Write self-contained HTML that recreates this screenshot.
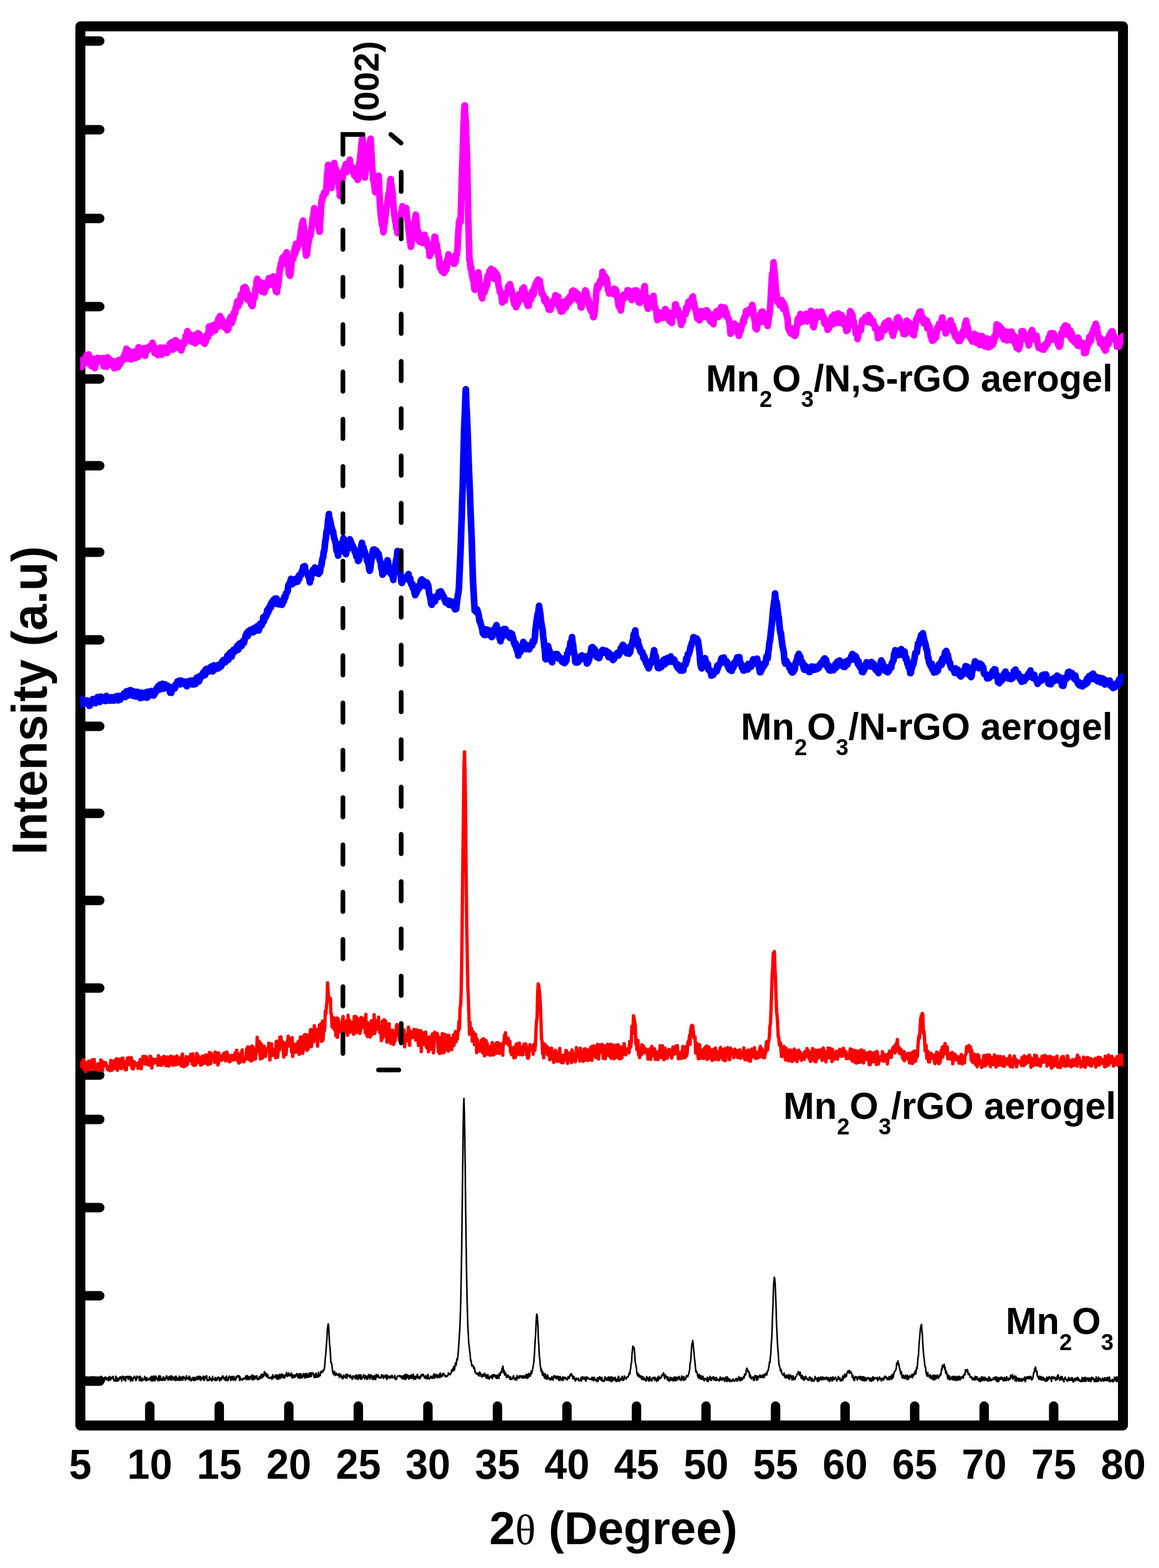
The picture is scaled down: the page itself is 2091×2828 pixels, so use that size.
<!DOCTYPE html>
<html><head><meta charset="utf-8"><title>XRD</title>
<style>
html,body{margin:0;padding:0;background:#fefefe;overflow:hidden}
svg{display:block;filter:blur(0.6px)}
text{font-family:"Liberation Sans",Arial,sans-serif;font-weight:bold;fill:#000}
</style></head><body>
<svg width="2091" height="2828" viewBox="0 0 2091 2828">
<defs><clipPath id="pc"><rect x="144.5" y="40" width="1882.5" height="2535"/></clipPath></defs>
<path d="M145 74 H180M145 234 H180M145 394 H180M145 553 H180M145 683.5 H180M145 840 H180M145 996 H180M145 1154 H180M145 1310 H180M145 1467 H180M145 1624 H180M145 1782 H180M145 1939 H180M145 2019 H180M145 2178 H180M145 2337 H180M145 2491 H180M270.2 2571 V2536M395.6 2571 V2536M521.1 2571 V2536M646.5 2571 V2536M772 2571 V2536M897.5 2571 V2536M1022.9 2571 V2536M1148.3 2571 V2536M1273.8 2571 V2536M1399.2 2571 V2536M1524.7 2571 V2536M1650.2 2571 V2536M1775.6 2571 V2536M1901 2571 V2536" stroke="#000" stroke-width="17" stroke-linecap="round" fill="none"/>
<rect x="145" y="47.5" width="1881" height="2523.5" fill="none" stroke="#000" stroke-width="18" stroke-linejoin="round"/>
<g clip-path="url(#pc)" fill="none" stroke-linejoin="round" stroke-linecap="round">
<path d="M145 2484.5L145.8 2483.3L146.6 2486L147.4 2483.8L148.2 2483L149 2486L149.8 2490.8L150.6 2489.7L151.4 2489.4L152.2 2484.4L153 2487.3L153.8 2484.9L154.6 2483.9L155.4 2483.3L156.2 2484.3L157 2490.8L157.8 2489.9L158.6 2489.7L159.4 2489.6L160.2 2484.1L161 2485.1L161.8 2488L162.6 2489L163.4 2490.1L164.2 2490.3L165 2483L165.8 2487.8L166.6 2488.4L167.4 2486.9L168.2 2483.9L169 2486.6L169.8 2483L170.6 2490.8L171.4 2490.2L172.2 2487.2L173 2485L173.8 2490.6L174.6 2487.4L175.4 2490.3L176.2 2490L177 2486.8L177.8 2486L178.6 2487.7L179.4 2486.1L180.2 2483.6L181 2484.9L181.8 2489.6L182.6 2482.5L183.4 2482.6L184.2 2487.9L185 2484.7L185.8 2487L186.6 2486.4L187.4 2485.3L188.2 2491.3L189 2483.9L189.8 2485.9L190.6 2483.9L191.4 2487.9L192.2 2484.6L193 2485.3L193.8 2488.9L194.6 2485L195.4 2487.2L196.2 2490.4L197 2483L197.8 2482.6L198.6 2484.1L199.4 2489.1L200.2 2487.7L201 2484.2L201.8 2485.1L202.6 2483.6L203.4 2486.2L204.2 2482.4L205 2488.4L205.8 2490.2L206.6 2490.8L207.4 2488.7L208.2 2490.8L209 2482.1L209.8 2484.6L210.6 2490.8L211.4 2489.1L212.2 2485.7L213 2490.6L213.8 2487.6L214.6 2489.4L215.4 2484.6L216.2 2483.7L217 2486L217.8 2483.2L218.6 2485.4L219.4 2490.7L220.2 2484.9L221 2482L221.8 2482.3L222.6 2483.4L223.4 2489.1L224.2 2485.2L225 2484.5L225.8 2482.7L226.6 2490.9L227.4 2485.7L228.2 2483.7L229 2482.4L229.8 2482.3L230.6 2483.4L231.4 2488L232.2 2483.2L233 2482.2L233.8 2486.3L234.6 2484.1L235.4 2491L236.2 2482.9L237 2486.6L237.8 2488.9L238.6 2485.5L239.4 2490.8L240.2 2486.1L241 2484L241.8 2485.5L242.6 2482.1L243.4 2485.6L244.2 2484L245 2489.9L245.8 2489.4L246.6 2486.3L247.4 2482L248.2 2484L249 2483.9L249.8 2483.6L250.6 2483.8L251.4 2489.7L252.2 2483L253 2482.1L253.8 2490.2L254.6 2486.9L255.4 2490.8L256.2 2485.4L257 2489.9L257.8 2487.7L258.6 2488.9L259.4 2488.5L260.2 2486.2L261 2482.5L261.8 2483.6L262.6 2489.6L263.4 2489.9L264.2 2490.1L265 2484.7L265.8 2487.6L266.6 2488.9L267.4 2487.5L268.2 2489.1L269 2486.4L269.8 2487.6L270.6 2487.9L271.4 2484L272.2 2490L273 2490.3L273.8 2482.2L274.6 2490.5L275.4 2490.4L276.2 2487.7L277 2481.9L277.8 2489.8L278.6 2482.7L279.4 2490.4L280.2 2487.6L281 2482L281.8 2483L282.6 2487.3L283.4 2486.7L284.2 2488.3L285 2490L285.8 2483.5L286.6 2481.5L287.4 2489.9L288.2 2481.6L289 2489.5L289.8 2482.5L290.6 2488.9L291.4 2488.6L292.2 2489.5L293 2486.5L293.8 2489.5L294.6 2483.2L295.4 2487.6L296.2 2484.4L297 2489.6L297.8 2488.5L298.6 2485.7L299.4 2486.2L300.2 2481.6L301 2481.7L301.8 2486.8L302.6 2485.9L303.4 2489.3L304.2 2487L305 2482.6L305.8 2484.7L306.6 2488.4L307.4 2486.2L308.2 2481.5L309 2489.1L309.8 2489L310.6 2482.1L311.4 2486.4L312.2 2484.9L313 2488.6L313.8 2484.2L314.6 2483.5L315.4 2485.8L316.2 2490.2L317 2482.2L317.8 2482.4L318.6 2487.1L319.4 2489.5L320.2 2486.1L321 2485.3L321.8 2489.2L322.6 2488.5L323.4 2482L324.2 2489.5L325 2483.2L325.8 2484.1L326.6 2489L327.4 2485.2L328.2 2488.7L329 2482.9L329.8 2489.4L330.6 2483L331.4 2482.7L332.2 2485.9L333 2484.5L333.8 2486.3L334.6 2489.7L335.4 2487.9L336.2 2481.4L337 2484.2L337.8 2486.4L338.6 2485.8L339.4 2487.9L340.2 2485.8L341 2482L341.8 2483.6L342.6 2489.1L343.4 2484.6L344.2 2488.4L345 2490.4L345.8 2487.1L346.6 2487.6L347.4 2487L348.2 2484.2L349 2489.7L349.8 2485.6L350.6 2489.7L351.4 2484.2L352.2 2489.3L353 2488.6L353.8 2487L354.6 2485.4L355.4 2482.6L356.2 2488.4L357 2484.7L357.8 2487.4L358.6 2482.6L359.4 2482.1L360.2 2482.7L361 2488.8L361.8 2483L362.6 2489.6L363.4 2484.8L364.2 2486.6L365 2484.6L365.8 2487L366.6 2482.2L367.4 2485L368.2 2489.9L369 2483L369.8 2487.4L370.6 2484.3L371.4 2484.1L372.2 2481.5L373 2481.5L373.8 2490.1L374.6 2489L375.4 2488.7L376.2 2488.8L377 2490.1L377.8 2482.8L378.6 2486.7L379.4 2485.9L380.2 2486.6L381 2490L381.8 2488.3L382.6 2490.2L383.4 2482.4L384.2 2487.3L385 2487.5L385.8 2488.2L386.6 2487L387.4 2489L388.2 2484.1L389 2489.9L389.8 2485.1L390.6 2486.8L391.4 2489.6L392.2 2487.8L393 2484.2L393.8 2483.4L394.6 2484.3L395.4 2487.1L396.2 2490.5L397 2489.6L397.8 2485L398.6 2485L399.4 2488.8L400.2 2483.9L401 2485.1L401.8 2481.4L402.6 2482.9L403.4 2486.2L404.2 2487.6L405 2486.9L405.8 2484.5L406.6 2489.9L407.4 2486.9L408.2 2482.6L409 2481.7L409.8 2490.1L410.6 2490.2L411.4 2489.5L412.2 2486.6L413 2483.9L413.8 2481.9L414.6 2483.4L415.4 2483L416.2 2489.5L417 2489.2L417.8 2488.1L418.6 2482.3L419.4 2483.1L420.2 2483.6L421 2489.6L421.8 2482.3L422.6 2488.1L423.4 2487.1L424.2 2485.8L425 2489.6L425.8 2483.2L426.6 2485.6L427.4 2482.2L428.2 2481.6L429 2481L429.8 2483.6L430.6 2481.8L431.4 2481.2L432.2 2489.7L433 2483.3L433.8 2488.8L434.6 2487L435.4 2487.3L436.2 2486.5L437 2489.3L437.8 2488.6L438.6 2487.1L439.4 2485.6L440.2 2486.8L441 2487.1L441.8 2485.5L442.6 2485L443.4 2481.8L444.2 2488.1L445 2484.7L445.8 2480.9L446.6 2481.8L447.4 2488.3L448.2 2482.6L449 2483.8L449.8 2486.4L450.6 2488.1L451.4 2483.1L452.2 2483.6L453 2483.9L453.8 2480.3L454.6 2488.1L455.4 2480.1L456.2 2488.8L457 2481.3L457.8 2481.3L458.6 2487.6L459.4 2487.3L460.2 2481.9L461 2484.8L461.8 2484L462.6 2486.2L463.4 2481.2L464.2 2487L465 2488.5L465.8 2485.7L466.6 2487.6L467.4 2487.6L468.2 2482.3L469 2486.4L469.8 2486L470.6 2483.4L471.4 2478.6L472.2 2482.8L473 2485L473.8 2478.8L474.6 2481.2L475.4 2482.9L476.2 2479.5L477 2473.8L477.8 2479.1L478.6 2475.7L479.4 2481.5L480.2 2480.3L481 2477.6L481.8 2483.7L482.6 2481.8L483.4 2479.7L484.2 2484.8L485 2485.7L485.8 2486L486.6 2486.2L487.4 2484.3L488.2 2484.8L489 2484.1L489.8 2483.5L490.6 2487.8L491.4 2482L492.2 2479.5L493 2485.4L493.8 2483.4L494.6 2483.9L495.4 2484.4L496.2 2481.2L497 2480.7L497.8 2479.5L498.6 2486.1L499.4 2487.2L500.2 2485.2L501 2479.9L501.8 2487.8L502.6 2486.3L503.4 2483.4L504.2 2478.6L505 2486.3L505.8 2484.2L506.6 2484.2L507.4 2478.5L508.2 2485L509 2478.5L509.8 2482.5L510.6 2479.3L511.4 2481.1L512.2 2485.8L513 2484.3L513.8 2484.6L514.6 2479.4L515.4 2479.8L516.2 2481.2L517 2475.3L517.8 2478.1L518.6 2482.6L519.4 2480.2L520.2 2481L521 2476.1L521.8 2480.1L522.6 2481.6L523.4 2481.5L524.2 2479.5L525 2477.5L525.8 2476.4L526.6 2484.7L527.4 2485.3L528.2 2479.4L529 2483.9L529.8 2480.7L530.6 2482.8L531.4 2484.8L532.2 2480L533 2482.8L533.8 2479.4L534.6 2481.7L535.4 2477.3L536.2 2479.4L537 2479.6L537.8 2485.3L538.6 2478.1L539.4 2483.8L540.2 2477.6L541 2485.8L541.8 2478.2L542.6 2477.5L543.4 2478.6L544.2 2485.2L545 2482.7L545.8 2484.7L546.6 2481L547.4 2477.4L548.2 2479.5L549 2480.5L549.8 2485.3L550.6 2477.7L551.4 2478.4L552.2 2483.8L553 2477L553.8 2484.9L554.6 2478.6L555.4 2481L556.2 2481.8L557 2484L557.8 2476.3L558.6 2483.3L559.4 2477.1L560.2 2482L561 2475.6L561.8 2482.5L562.6 2477.1L563.4 2477.3L564.2 2475.7L565 2478.4L565.8 2478.4L566.6 2484.4L567.4 2480.9L568.2 2478.6L569 2484.4L569.8 2476.8L570.6 2477.1L571.4 2483.8L572.2 2483.7L573 2481.1L573.8 2483.6L574.6 2475L575.4 2482.6L576.2 2480.5L577 2479.8L577.8 2481.1L578.6 2473.9L579.4 2474.2L580.2 2473L581 2475.4L581.8 2475L582.6 2473.7L583.4 2470.4L584.2 2471.6L585 2469.3L585.8 2464.3L586.6 2451.9L587.4 2445.2L588.2 2436L589 2424.3L589.8 2414L590.6 2397.6L591.4 2392.3L592.2 2387.7L593 2394L593.8 2408.8L594.6 2424.6L595.4 2430.5L596.2 2443L597 2457.7L597.8 2457.5L598.6 2460.9L599.4 2466.2L600.2 2474.8L601 2475.9L601.8 2479.3L602.6 2476.5L603.4 2473.2L604.2 2476.4L605 2480.8L605.8 2478.4L606.6 2476.5L607.4 2479L608.2 2480.2L609 2479.5L609.8 2480.6L610.6 2478L611.4 2477.2L612.2 2484.3L613 2484L613.8 2481.2L614.6 2478.6L615.4 2480.3L616.2 2482.9L617 2486L617.8 2482.3L618.6 2486.9L619.4 2482.9L620.2 2479.8L621 2483.8L621.8 2483.8L622.6 2483.8L623.4 2485L624.2 2478.6L625 2482.4L625.8 2485.8L626.6 2479.8L627.4 2478.9L628.2 2480.2L629 2481.2L629.8 2482.6L630.6 2481.5L631.4 2484.5L632.2 2480.2L633 2481.9L633.8 2484.9L634.6 2483.7L635.4 2487.6L636.2 2487.4L637 2481.2L637.8 2481.9L638.6 2483.8L639.4 2483.8L640.2 2482.2L641 2486.8L641.8 2480.7L642.6 2483.2L643.4 2480L644.2 2487L645 2484.4L645.8 2488L646.6 2480.2L647.4 2485.5L648.2 2484.4L649 2479.4L649.8 2486.5L650.6 2487L651.4 2479.7L652.2 2487.6L653 2486.2L653.8 2484.5L654.6 2484L655.4 2481.4L656.2 2479.5L657 2483.4L657.8 2487L658.6 2480.9L659.4 2483.3L660.2 2481.6L661 2485.4L661.8 2487.8L662.6 2487.2L663.4 2481.7L664.2 2482.8L665 2479L665.8 2483.9L666.6 2486.9L667.4 2486.8L668.2 2479.7L669 2483L669.8 2479.8L670.6 2482.9L671.4 2487.4L672.2 2481.6L673 2486.8L673.8 2487.8L674.6 2486.6L675.4 2480.9L676.2 2487.5L677 2487.5L677.8 2488.2L678.6 2479.1L679.4 2479.1L680.2 2481.7L681 2483.8L681.8 2482.9L682.6 2479.9L683.4 2484.9L684.2 2485.2L685 2484.8L685.8 2483.7L686.6 2484.1L687.4 2485.4L688.2 2479.6L689 2483L689.8 2480.3L690.6 2480L691.4 2486L692.2 2482L693 2482.1L693.8 2481.6L694.6 2484.4L695.4 2480.1L696.2 2484.9L697 2479.7L697.8 2487.8L698.6 2480.4L699.4 2486.1L700.2 2484L701 2482.9L701.8 2481.8L702.6 2482.3L703.4 2486L704.2 2483.8L705 2483.9L705.8 2481.3L706.6 2484.7L707.4 2480.5L708.2 2483.4L709 2485L709.8 2484L710.6 2484.3L711.4 2484.2L712.2 2480.7L713 2487.8L713.8 2485.2L714.6 2485.6L715.4 2487.7L716.2 2483.1L717 2482L717.8 2481.7L718.6 2481.8L719.4 2481.7L720.2 2481.8L721 2480.8L721.8 2483.4L722.6 2481.6L723.4 2482.3L724.2 2485L725 2481.8L725.8 2486.8L726.6 2486.2L727.4 2481.9L728.2 2486.5L729 2480.5L729.8 2479.7L730.6 2488L731.4 2479.1L732.2 2478.9L733 2486.8L733.8 2478.8L734.6 2484.8L735.4 2483.9L736.2 2480.8L737 2481L737.8 2487.7L738.6 2482.4L739.4 2481L740.2 2482.8L741 2485.5L741.8 2481.4L742.6 2479.5L743.4 2486L744.2 2479.6L745 2479.2L745.8 2478.7L746.6 2487.8L747.4 2482.6L748.2 2485.4L749 2483.7L749.8 2487.6L750.6 2481.7L751.4 2481.8L752.2 2484.8L753 2478.6L753.8 2481.9L754.6 2485.5L755.4 2483.8L756.2 2483L757 2487.1L757.8 2482.4L758.6 2485.2L759.4 2482L760.2 2479.2L761 2481.9L761.8 2480.3L762.6 2478.6L763.4 2480.9L764.2 2479.5L765 2482.5L765.8 2485L766.6 2485.2L767.4 2486.3L768.2 2481.1L769 2484.3L769.8 2486.3L770.6 2481.7L771.4 2486.5L772.2 2479L773 2486.5L773.8 2486.1L774.6 2486.9L775.4 2485.5L776.2 2484.4L777 2481.8L777.8 2484.4L778.6 2485.8L779.4 2483L780.2 2483.4L781 2486.1L781.8 2480.2L782.6 2480.6L783.4 2477.8L784.2 2485.5L785 2483.1L785.8 2483.4L786.6 2479.4L787.4 2478.8L788.2 2481.5L789 2485L789.8 2480.2L790.6 2480.7L791.4 2480.6L792.2 2484.4L793 2477.7L793.8 2484.4L794.6 2476.4L795.4 2482.6L796.2 2483.1L797 2480.3L797.8 2482.6L798.6 2478.2L799.4 2476.8L800.2 2478.7L801 2477.6L801.8 2481.6L802.6 2480L803.4 2480.7L804.2 2483.4L805 2481.3L805.8 2481.2L806.6 2482.6L807.4 2481.9L808.2 2479.9L809 2475.9L809.8 2477L810.6 2478.8L811.4 2478.7L812.2 2479.2L813 2477.2L813.8 2475.9L814.6 2471.4L815.4 2474.1L816.2 2469.2L817 2472.5L817.8 2467.1L818.6 2464.5L819.4 2471.7L820.2 2469.4L821 2462.5L821.8 2458L822.6 2462.8L823.4 2459.6L824.2 2450.7L825 2453L825.8 2448.4L826.6 2440.2L827.4 2430L828.2 2418.3L829 2405.5L829.8 2391.7L830.6 2371.1L831.4 2339.6L832.2 2295.9L833 2251.1L833.8 2184.2L834.6 2122.2L835.4 2051.9L836.2 1999L837 1981.1L837.8 2006.3L838.6 2052.4L839.4 2116.8L840.2 2188.2L841 2247.1L841.8 2299.3L842.6 2339.2L843.4 2371.2L844.2 2396.4L845 2408.3L845.8 2423.9L846.6 2428.9L847.4 2437.6L848.2 2442L849 2453.8L849.8 2452.9L850.6 2459.6L851.4 2463.9L852.2 2461.7L853 2462.1L853.8 2464.3L854.6 2468.1L855.4 2468.5L856.2 2466.8L857 2475.1L857.8 2474.1L858.6 2477.1L859.4 2477.7L860.2 2477.3L861 2478.8L861.8 2478.3L862.6 2476.3L863.4 2480.4L864.2 2481.7L865 2474.7L865.8 2475.4L866.6 2476L867.4 2478.9L868.2 2483L869 2480.2L869.8 2483.5L870.6 2479.2L871.4 2481.3L872.2 2478.5L873 2482.3L873.8 2479.1L874.6 2476.9L875.4 2480.6L876.2 2482.3L877 2485.4L877.8 2480L878.6 2486.1L879.4 2485.1L880.2 2479.2L881 2485L881.8 2486.6L882.6 2486.9L883.4 2484.5L884.2 2481.8L885 2483.3L885.8 2484.4L886.6 2484.1L887.4 2480.3L888.2 2486.7L889 2483.6L889.8 2479.3L890.6 2481.5L891.4 2479.4L892.2 2483L893 2479.6L893.8 2483.6L894.6 2481.2L895.4 2486.2L896.2 2485.6L897 2480.2L897.8 2485.8L898.6 2483.5L899.4 2480.3L900.2 2485.8L901 2476.9L901.8 2479.6L902.6 2480.1L903.4 2474.2L904.2 2474.8L905 2475.4L905.8 2467.4L906.6 2468.8L907.4 2464L908.2 2473.3L909 2476.3L909.8 2471.9L910.6 2480L911.4 2477.9L912.2 2476.5L913 2479.2L913.8 2484.6L914.6 2482.6L915.4 2483.6L916.2 2480.1L917 2480.7L917.8 2482.7L918.6 2484.2L919.4 2487.1L920.2 2483.8L921 2482.8L921.8 2488.2L922.6 2486.2L923.4 2486.9L924.2 2487.4L925 2484.4L925.8 2482.4L926.6 2481.1L927.4 2486.1L928.2 2487L929 2488.4L929.8 2488.6L930.6 2484.7L931.4 2484.6L932.2 2489L933 2480.9L933.8 2483.5L934.6 2485.1L935.4 2485.6L936.2 2485.7L937 2481.5L937.8 2484.7L938.6 2481.6L939.4 2483.4L940.2 2481.5L941 2482.7L941.8 2485.5L942.6 2483.3L943.4 2481.1L944.2 2483.8L945 2485.6L945.8 2482.1L946.6 2481.7L947.4 2483.1L948.2 2485.3L949 2479L949.8 2484.7L950.6 2478.8L951.4 2486.2L952.2 2479.5L953 2484.9L953.8 2477.2L954.6 2481L955.4 2478.2L956.2 2482.3L957 2481.5L957.8 2474.5L958.6 2472.6L959.4 2477.3L960.2 2472.3L961 2469.1L961.8 2464.9L962.6 2459.7L963.4 2454.1L964.2 2442.2L965 2426.7L965.8 2413.8L966.6 2400.5L967.4 2381.4L968.2 2370.1L969 2372L969.8 2378.5L970.6 2394.8L971.4 2416.8L972.2 2426.6L973 2445.9L973.8 2450.3L974.6 2462.2L975.4 2466.7L976.2 2473L977 2469.3L977.8 2477L978.6 2480L979.4 2474.1L980.2 2481L981 2478.1L981.8 2483.1L982.6 2485.9L983.4 2477.4L984.2 2481.6L985 2482.8L985.8 2487.6L986.6 2487.3L987.4 2479.3L988.2 2480.6L989 2483.3L989.8 2487.1L990.6 2487.1L991.4 2485.1L992.2 2488.6L993 2487.8L993.8 2488.5L994.6 2486.3L995.4 2483L996.2 2487.4L997 2487.3L997.8 2489.4L998.6 2482.5L999.4 2481.2L1000.2 2484.2L1001 2483.4L1001.8 2484.7L1002.6 2481.7L1003.4 2486.8L1004.2 2485.2L1005 2483.7L1005.8 2482.3L1006.6 2486.7L1007.4 2482.3L1008.2 2489.4L1009 2484L1009.8 2489.7L1010.6 2482.6L1011.4 2485.1L1012.2 2488.7L1013 2486.3L1013.8 2485.7L1014.6 2489.7L1015.4 2483.1L1016.2 2489.4L1017 2486.3L1017.8 2484.2L1018.6 2484.7L1019.4 2484L1020.2 2487.2L1021 2485.4L1021.8 2486L1022.6 2487.1L1023.4 2488.8L1024.2 2487L1025 2482.8L1025.8 2485.6L1026.6 2484.9L1027.4 2485.7L1028.2 2479.5L1029 2479.5L1029.8 2480.9L1030.6 2477.3L1031.4 2478.3L1032.2 2482.5L1033 2481.5L1033.8 2487L1034.6 2483.2L1035.4 2482.6L1036.2 2486.6L1037 2486.8L1037.8 2490.6L1038.6 2490.3L1039.4 2485.6L1040.2 2486L1041 2487.9L1041.8 2486.6L1042.6 2487.5L1043.4 2485.8L1044.2 2490.1L1045 2490.4L1045.8 2489.5L1046.6 2489.1L1047.4 2490.4L1048.2 2484.7L1049 2491L1049.8 2484.2L1050.6 2483.3L1051.4 2486.9L1052.2 2483.9L1053 2484.8L1053.8 2488L1054.6 2483.8L1055.4 2486.1L1056.2 2485.9L1057 2491.2L1057.8 2483.2L1058.6 2487.2L1059.4 2486.9L1060.2 2484L1061 2485.8L1061.8 2485.9L1062.6 2485.9L1063.4 2487.7L1064.2 2487.7L1065 2486.9L1065.8 2486.7L1066.6 2488.2L1067.4 2487.1L1068.2 2483.8L1069 2488.7L1069.8 2486.4L1070.6 2490.5L1071.4 2483.9L1072.2 2487.7L1073 2485.5L1073.8 2488.5L1074.6 2490.3L1075.4 2488.7L1076.2 2488L1077 2491.3L1077.8 2484.8L1078.6 2491.9L1079.4 2486.8L1080.2 2488.6L1081 2484L1081.8 2483.1L1082.6 2484.3L1083.4 2487.8L1084.2 2485L1085 2490.1L1085.8 2484.2L1086.6 2488.9L1087.4 2491.1L1088.2 2489.2L1089 2491.3L1089.8 2490.4L1090.6 2490.7L1091.4 2483.2L1092.2 2487.5L1093 2485.6L1093.8 2486.9L1094.6 2489.5L1095.4 2489.6L1096.2 2484.7L1097 2484.4L1097.8 2483.5L1098.6 2489.6L1099.4 2490.4L1100.2 2483.7L1101 2484.1L1101.8 2484.1L1102.6 2491.9L1103.4 2483.4L1104.2 2488.1L1105 2490.8L1105.8 2484.3L1106.6 2489L1107.4 2485.8L1108.2 2488.6L1109 2487L1109.8 2484L1110.6 2490.9L1111.4 2487.2L1112.2 2491.6L1113 2488L1113.8 2491.3L1114.6 2488.4L1115.4 2482.9L1116.2 2482.4L1117 2491.4L1117.8 2488.4L1118.6 2489.4L1119.4 2489.8L1120.2 2485.3L1121 2488.4L1121.8 2487.8L1122.6 2482.3L1123.4 2486.6L1124.2 2490L1125 2486.4L1125.8 2488.4L1126.6 2481.6L1127.4 2484.6L1128.2 2485.1L1129 2485.3L1129.8 2487.6L1130.6 2483.9L1131.4 2484.1L1132.2 2483L1133 2483.6L1133.8 2481.7L1134.6 2478.7L1135.4 2475.8L1136.2 2478.6L1137 2470.4L1137.8 2469.1L1138.6 2459.1L1139.4 2458.3L1140.2 2442.7L1141 2435.7L1141.8 2427.9L1142.6 2429.3L1143.4 2430L1144.2 2432.2L1145 2440.7L1145.8 2454L1146.6 2459L1147.4 2462.9L1148.2 2467.2L1149 2476.5L1149.8 2478.7L1150.6 2482L1151.4 2476.8L1152.2 2481.6L1153 2479.4L1153.8 2483.9L1154.6 2481.3L1155.4 2481.8L1156.2 2485.2L1157 2481.9L1157.8 2487.9L1158.6 2482.4L1159.4 2483.5L1160.2 2488.2L1161 2483.8L1161.8 2484.3L1162.6 2488.8L1163.4 2486.9L1164.2 2489.3L1165 2489.9L1165.8 2490.8L1166.6 2482.8L1167.4 2485.7L1168.2 2486.3L1169 2484.8L1169.8 2490.2L1170.6 2485.9L1171.4 2490.9L1172.2 2483L1173 2486.5L1173.8 2488.2L1174.6 2489.6L1175.4 2486.9L1176.2 2490.7L1177 2485.2L1177.8 2485.7L1178.6 2484.2L1179.4 2484.2L1180.2 2486.9L1181 2489.2L1181.8 2484.2L1182.6 2486.9L1183.4 2486.3L1184.2 2491.4L1185 2486.8L1185.8 2489.7L1186.6 2484.3L1187.4 2490.3L1188.2 2482.1L1189 2483.1L1189.8 2487.3L1190.6 2486L1191.4 2485.4L1192.2 2485.5L1193 2481.9L1193.8 2483.3L1194.6 2479.2L1195.4 2479.3L1196.2 2479.5L1197 2475.9L1197.8 2481.3L1198.6 2483.6L1199.4 2486.7L1200.2 2479.5L1201 2483.9L1201.8 2482.2L1202.6 2482.7L1203.4 2485.9L1204.2 2488.9L1205 2483.1L1205.8 2489.4L1206.6 2489.9L1207.4 2491.1L1208.2 2489.2L1209 2484.2L1209.8 2488.9L1210.6 2487.6L1211.4 2484.9L1212.2 2489.7L1213 2485.4L1213.8 2490.1L1214.6 2490.5L1215.4 2486L1216.2 2483.6L1217 2489.9L1217.8 2483.8L1218.6 2483.4L1219.4 2490.4L1220.2 2484.4L1221 2484.6L1221.8 2485.8L1222.6 2488.8L1223.4 2483.9L1224.2 2485L1225 2482.6L1225.8 2484.3L1226.6 2488.7L1227.4 2487.6L1228.2 2487.2L1229 2489.8L1229.8 2481.7L1230.6 2483.9L1231.4 2487L1232.2 2484.3L1233 2489.8L1233.8 2482.6L1234.6 2489.1L1235.4 2486.7L1236.2 2485.9L1237 2487.9L1237.8 2482.7L1238.6 2481.2L1239.4 2481.3L1240.2 2483.1L1241 2482.6L1241.8 2479.1L1242.6 2478.2L1243.4 2473.7L1244.2 2470.4L1245 2458.6L1245.8 2457.8L1246.6 2446.3L1247.4 2434.7L1248.2 2423.7L1249 2421.9L1249.8 2417.6L1250.6 2423.9L1251.4 2434.2L1252.2 2440.9L1253 2450.2L1253.8 2456.5L1254.6 2465.1L1255.4 2474.3L1256.2 2472.4L1257 2475.2L1257.8 2475.9L1258.6 2481.6L1259.4 2483.9L1260.2 2479.6L1261 2486.1L1261.8 2479.2L1262.6 2480.6L1263.4 2480.8L1264.2 2487.5L1265 2481.3L1265.8 2487.5L1266.6 2482.9L1267.4 2483.9L1268.2 2482.2L1269 2488.9L1269.8 2485L1270.6 2490.2L1271.4 2488.1L1272.2 2487L1273 2486.2L1273.8 2487.2L1274.6 2487.4L1275.4 2491L1276.2 2484.2L1277 2483.9L1277.8 2491.5L1278.6 2488.6L1279.4 2488.2L1280.2 2486.7L1281 2482.5L1281.8 2484.5L1282.6 2489.9L1283.4 2485L1284.2 2488.1L1285 2487L1285.8 2484.1L1286.6 2483.1L1287.4 2483.2L1288.2 2489.2L1289 2484.8L1289.8 2487.3L1290.6 2488L1291.4 2489.7L1292.2 2484.1L1293 2486.6L1293.8 2489.6L1294.6 2488.8L1295.4 2487.1L1296.2 2488.6L1297 2489.9L1297.8 2490.8L1298.6 2487.6L1299.4 2483.6L1300.2 2483.9L1301 2488.8L1301.8 2489L1302.6 2486.8L1303.4 2489.1L1304.2 2484.7L1305 2486.3L1305.8 2486.2L1306.6 2489.6L1307.4 2491.6L1308.2 2485.2L1309 2483.6L1309.8 2486.1L1310.6 2490.7L1311.4 2491.8L1312.2 2483.2L1313 2485.8L1313.8 2487.1L1314.6 2490.9L1315.4 2487.9L1316.2 2486.6L1317 2491.6L1317.8 2489.4L1318.6 2490.9L1319.4 2490L1320.2 2491.6L1321 2488.8L1321.8 2489.7L1322.6 2487.2L1323.4 2488.7L1324.2 2491.1L1325 2491.2L1325.8 2490.7L1326.6 2488.6L1327.4 2486.9L1328.2 2486.2L1329 2485.9L1329.8 2491L1330.6 2488.3L1331.4 2489.5L1332.2 2488.2L1333 2482.9L1333.8 2486L1334.6 2485.1L1335.4 2490.6L1336.2 2487.9L1337 2484.8L1337.8 2486L1338.6 2489.3L1339.4 2485.6L1340.2 2486.9L1341 2483.2L1341.8 2483.1L1342.6 2485.2L1343.4 2478.5L1344.2 2480.8L1345 2479.6L1345.8 2477.6L1346.6 2469.7L1347.4 2467.6L1348.2 2470.4L1349 2470.4L1349.8 2474.5L1350.6 2474.8L1351.4 2474.2L1352.2 2483L1353 2477.9L1353.8 2484.8L1354.6 2481.7L1355.4 2487L1356.2 2485.8L1357 2484.8L1357.8 2484.7L1358.6 2483.2L1359.4 2489.7L1360.2 2485.7L1361 2489.4L1361.8 2481.7L1362.6 2480.8L1363.4 2482.2L1364.2 2483.4L1365 2489.5L1365.8 2481.5L1366.6 2485.1L1367.4 2488L1368.2 2482.8L1369 2482.6L1369.8 2481.7L1370.6 2480.1L1371.4 2484.7L1372.2 2484.3L1373 2480.9L1373.8 2483.8L1374.6 2483L1375.4 2484.4L1376.2 2479.9L1377 2479.4L1377.8 2484.9L1378.6 2482.6L1379.4 2482.7L1380.2 2478.2L1381 2479.6L1381.8 2476.9L1382.6 2478.7L1383.4 2480L1384.2 2474.3L1385 2472.3L1385.8 2472.5L1386.6 2468.1L1387.4 2463.7L1388.2 2456.3L1389 2458.2L1389.8 2448.2L1390.6 2442.1L1391.4 2425.6L1392.2 2415.8L1393 2397.1L1393.8 2370.9L1394.6 2353.1L1395.4 2323.9L1396.2 2311.4L1397 2303.7L1397.8 2306.3L1398.6 2316.3L1399.4 2337.7L1400.2 2359.1L1401 2387.8L1401.8 2404.5L1402.6 2422.6L1403.4 2433.2L1404.2 2443.2L1405 2456L1405.8 2462.2L1406.6 2465.2L1407.4 2468L1408.2 2473.1L1409 2470.1L1409.8 2472L1410.6 2477.8L1411.4 2478L1412.2 2479.9L1413 2480.4L1413.8 2478.4L1414.6 2476.4L1415.4 2483.1L1416.2 2484.5L1417 2481.9L1417.8 2480.4L1418.6 2485.6L1419.4 2479.9L1420.2 2480.3L1421 2484.1L1421.8 2483.4L1422.6 2486.2L1423.4 2479.5L1424.2 2488.1L1425 2482.3L1425.8 2484.4L1426.6 2480.2L1427.4 2483.5L1428.2 2484.8L1429 2488.9L1429.8 2482L1430.6 2481.4L1431.4 2488.1L1432.2 2488.6L1433 2484.5L1433.8 2484.5L1434.6 2487.5L1435.4 2483.2L1436.2 2482.5L1437 2481.6L1437.8 2478.9L1438.6 2478L1439.4 2477.6L1440.2 2473.7L1441 2476.5L1441.8 2479.2L1442.6 2480.5L1443.4 2474.7L1444.2 2478.2L1445 2484.2L1445.8 2486.1L1446.6 2481.3L1447.4 2480.8L1448.2 2487.6L1449 2483.1L1449.8 2486.8L1450.6 2489.5L1451.4 2483.6L1452.2 2484.2L1453 2486.8L1453.8 2482.5L1454.6 2486.5L1455.4 2487.2L1456.2 2486L1457 2488.9L1457.8 2488.3L1458.6 2487.5L1459.4 2489.7L1460.2 2483.6L1461 2484L1461.8 2485L1462.6 2484L1463.4 2490.7L1464.2 2490.3L1465 2490.7L1465.8 2486.1L1466.6 2490.3L1467.4 2491.1L1468.2 2489.6L1469 2490.3L1469.8 2488.9L1470.6 2482.7L1471.4 2485.6L1472.2 2485L1473 2487.5L1473.8 2487.8L1474.6 2491.1L1475.4 2485.1L1476.2 2491.7L1477 2484.1L1477.8 2489.9L1478.6 2485.6L1479.4 2487.9L1480.2 2488.4L1481 2483.2L1481.8 2488.1L1482.6 2488.8L1483.4 2485.1L1484.2 2483.6L1485 2488.3L1485.8 2485.1L1486.6 2484.4L1487.4 2485L1488.2 2488L1489 2487.1L1489.8 2486.3L1490.6 2483.8L1491.4 2484.8L1492.2 2488.4L1493 2486.4L1493.8 2484.4L1494.6 2490.3L1495.4 2487.8L1496.2 2485.9L1497 2491.7L1497.8 2487.7L1498.6 2484.1L1499.4 2487.1L1500.2 2485.1L1501 2490.5L1501.8 2489.8L1502.6 2483.3L1503.4 2483.9L1504.2 2488.8L1505 2487.2L1505.8 2485.4L1506.6 2487L1507.4 2483.8L1508.2 2486.8L1509 2487.7L1509.8 2491L1510.6 2488L1511.4 2487.6L1512.2 2482.6L1513 2486.8L1513.8 2487.3L1514.6 2488.1L1515.4 2484.8L1516.2 2490.5L1517 2488.2L1517.8 2488.2L1518.6 2490.3L1519.4 2489.9L1520.2 2482L1521 2488.7L1521.8 2484.8L1522.6 2484.9L1523.4 2478.8L1524.2 2478.4L1525 2484L1525.8 2478.8L1526.6 2483L1527.4 2481.1L1528.2 2475.7L1529 2474.6L1529.8 2473.3L1530.6 2472.1L1531.4 2474.6L1532.2 2476.9L1533 2472.2L1533.8 2474.5L1534.6 2476L1535.4 2474.7L1536.2 2476.9L1537 2478.3L1537.8 2484.6L1538.6 2480.3L1539.4 2484.8L1540.2 2488.9L1541 2484.2L1541.8 2490L1542.6 2483.4L1543.4 2484.6L1544.2 2482.8L1545 2483.1L1545.8 2485.5L1546.6 2489L1547.4 2488L1548.2 2484.2L1549 2482.8L1549.8 2482.9L1550.6 2485.3L1551.4 2487.4L1552.2 2482.4L1553 2483.4L1553.8 2488.6L1554.6 2484.6L1555.4 2482.9L1556.2 2490L1557 2483.3L1557.8 2489.4L1558.6 2483.1L1559.4 2490.6L1560.2 2487L1561 2485.8L1561.8 2484.6L1562.6 2490.2L1563.4 2486.5L1564.2 2487.8L1565 2485.7L1565.8 2484.4L1566.6 2485.6L1567.4 2485.1L1568.2 2489.5L1569 2490.3L1569.8 2489.9L1570.6 2485.4L1571.4 2485.8L1572.2 2491.4L1573 2487L1573.8 2488L1574.6 2483.2L1575.4 2489.8L1576.2 2486.8L1577 2484.7L1577.8 2487.1L1578.6 2484.5L1579.4 2485.9L1580.2 2486L1581 2486.7L1581.8 2485.7L1582.6 2484.2L1583.4 2490.3L1584.2 2487.5L1585 2486L1585.8 2488.3L1586.6 2483.4L1587.4 2485.2L1588.2 2485.8L1589 2486.9L1589.8 2490.4L1590.6 2486.5L1591.4 2486.1L1592.2 2487.9L1593 2489.4L1593.8 2485.2L1594.6 2488.4L1595.4 2485.5L1596.2 2482.3L1597 2482.7L1597.8 2482.4L1598.6 2485.5L1599.4 2483.8L1600.2 2486.9L1601 2488.4L1601.8 2485.6L1602.6 2488.1L1603.4 2484L1604.2 2482.8L1605 2488.4L1605.8 2485.7L1606.6 2482.4L1607.4 2483.3L1608.2 2487.8L1609 2479.7L1609.8 2486.4L1610.6 2478.8L1611.4 2484.8L1612.2 2480.4L1613 2475L1613.8 2474.4L1614.6 2473L1615.4 2472L1616.2 2470.5L1617 2467.5L1617.8 2458.5L1618.6 2459.2L1619.4 2459.7L1620.2 2454.7L1621 2462.3L1621.8 2460.1L1622.6 2466.7L1623.4 2469.2L1624.2 2472.6L1625 2478.1L1625.8 2473.7L1626.6 2476.6L1627.4 2484.4L1628.2 2482.4L1629 2485.7L1629.8 2480.2L1630.6 2481.5L1631.4 2484.2L1632.2 2486.3L1633 2484L1633.8 2480.2L1634.6 2483.7L1635.4 2486.7L1636.2 2487.8L1637 2480.5L1637.8 2483.3L1638.6 2488L1639.4 2486.3L1640.2 2485.1L1641 2480.8L1641.8 2483.7L1642.6 2482.8L1643.4 2483.3L1644.2 2482.9L1645 2478.9L1645.8 2485.1L1646.6 2481.2L1647.4 2478.4L1648.2 2481.7L1649 2478.2L1649.8 2475.5L1650.6 2478.5L1651.4 2471.8L1652.2 2478.2L1653 2472.6L1653.8 2466.5L1654.6 2468.5L1655.4 2459.8L1656.2 2447.7L1657 2445.7L1657.8 2429.3L1658.6 2419.7L1659.4 2410.1L1660.2 2399.5L1661 2394.1L1661.8 2390.4L1662.6 2388.6L1663.4 2401.1L1664.2 2408.9L1665 2426.7L1665.8 2435.5L1666.6 2447.4L1667.4 2450.1L1668.2 2460.5L1669 2465.1L1669.8 2465.4L1670.6 2474.1L1671.4 2479.3L1672.2 2479L1673 2482.4L1673.8 2475.5L1674.6 2481.4L1675.4 2481.6L1676.2 2481L1677 2484.8L1677.8 2481.7L1678.6 2479.1L1679.4 2484.4L1680.2 2486.7L1681 2482.5L1681.8 2485.1L1682.6 2480.8L1683.4 2488.6L1684.2 2488.7L1685 2480L1685.8 2485.8L1686.6 2488.5L1687.4 2484.6L1688.2 2480.6L1689 2486.5L1689.8 2484.3L1690.6 2482.7L1691.4 2479.9L1692.2 2481.1L1693 2486.2L1693.8 2482.5L1694.6 2482.3L1695.4 2482.4L1696.2 2478.6L1697 2480.4L1697.8 2477.8L1698.6 2468.7L1699.4 2471.2L1700.2 2462.3L1701 2463.6L1701.8 2465.4L1702.6 2464L1703.4 2460.6L1704.2 2469.1L1705 2465.5L1705.8 2473.7L1706.6 2477.2L1707.4 2473L1708.2 2477.1L1709 2481.2L1709.8 2486.7L1710.6 2480L1711.4 2483.4L1712.2 2487.9L1713 2481.7L1713.8 2488.1L1714.6 2487.5L1715.4 2488.2L1716.2 2484.2L1717 2486.8L1717.8 2482.7L1718.6 2484L1719.4 2489L1720.2 2482.6L1721 2486.7L1721.8 2482.5L1722.6 2489.2L1723.4 2487.7L1724.2 2482.9L1725 2489.9L1725.8 2487.8L1726.6 2487.7L1727.4 2482.5L1728.2 2489.3L1729 2488.1L1729.8 2485.2L1730.6 2482.2L1731.4 2488.5L1732.2 2483.3L1733 2488.3L1733.8 2486.2L1734.6 2483.9L1735.4 2484.2L1736.2 2482.1L1737 2483.4L1737.8 2485.9L1738.6 2481.6L1739.4 2478.4L1740.2 2479.3L1741 2479.7L1741.8 2470.3L1742.6 2472L1743.4 2474.1L1744.2 2471.4L1745 2469.9L1745.8 2471.4L1746.6 2478.4L1747.4 2479.3L1748.2 2476.5L1749 2478.2L1749.8 2481.3L1750.6 2484.4L1751.4 2484.1L1752.2 2483.3L1753 2483.2L1753.8 2486.7L1754.6 2488.8L1755.4 2485.2L1756.2 2486.1L1757 2488.4L1757.8 2485.5L1758.6 2489.3L1759.4 2482.3L1760.2 2484.8L1761 2487.7L1761.8 2483.5L1762.6 2482.9L1763.4 2488.3L1764.2 2487.8L1765 2488.7L1765.8 2490.5L1766.6 2485.7L1767.4 2491.1L1768.2 2490.7L1769 2491.6L1769.8 2485.6L1770.6 2483.4L1771.4 2490L1772.2 2484.6L1773 2483.4L1773.8 2489.6L1774.6 2489.3L1775.4 2489.1L1776.2 2484L1777 2489.5L1777.8 2485.2L1778.6 2487.6L1779.4 2489.2L1780.2 2486.2L1781 2486.3L1781.8 2490.7L1782.6 2489L1783.4 2490.7L1784.2 2483.5L1785 2490.2L1785.8 2484.8L1786.6 2486L1787.4 2489L1788.2 2490.3L1789 2488.9L1789.8 2487.7L1790.6 2488L1791.4 2488.6L1792.2 2485L1793 2486.5L1793.8 2487L1794.6 2484L1795.4 2487L1796.2 2489.4L1797 2483.1L1797.8 2486.2L1798.6 2491.6L1799.4 2491.4L1800.2 2484.2L1801 2491.4L1801.8 2491.5L1802.6 2488.8L1803.4 2485L1804.2 2487.3L1805 2484.3L1805.8 2488L1806.6 2483.9L1807.4 2486.5L1808.2 2484.2L1809 2489.1L1809.8 2486.1L1810.6 2490.6L1811.4 2490.4L1812.2 2484.2L1813 2489.4L1813.8 2489.4L1814.6 2485L1815.4 2490L1816.2 2482.8L1817 2485L1817.8 2488.1L1818.6 2488.8L1819.4 2489.6L1820.2 2485.5L1821 2486.4L1821.8 2487.6L1822.6 2486.7L1823.4 2480.5L1824.2 2481.3L1825 2484.4L1825.8 2482.6L1826.6 2479.2L1827.4 2487.6L1828.2 2483.6L1829 2482.1L1829.8 2484.2L1830.6 2481.8L1831.4 2490.3L1832.2 2483.4L1833 2482.3L1833.8 2491.2L1834.6 2485.4L1835.4 2488.3L1836.2 2486L1837 2485.8L1837.8 2491.3L1838.6 2489.5L1839.4 2485.9L1840.2 2490.4L1841 2489.9L1841.8 2490.8L1842.6 2486.7L1843.4 2486.8L1844.2 2491.2L1845 2487.1L1845.8 2486.2L1846.6 2488.5L1847.4 2489.3L1848.2 2487.6L1849 2483.5L1849.8 2491.9L1850.6 2484.4L1851.4 2488.1L1852.2 2485.7L1853 2483.1L1853.8 2484.7L1854.6 2486.3L1855.4 2482.8L1856.2 2483.2L1857 2486.9L1857.8 2485.7L1858.6 2482.3L1859.4 2484.5L1860.2 2483.3L1861 2488.7L1861.8 2488.6L1862.6 2487.2L1863.4 2486L1864.2 2480.2L1865 2475.3L1865.8 2475.8L1866.6 2468.7L1867.4 2472.4L1868.2 2465.3L1869 2470.5L1869.8 2474L1870.6 2472.6L1871.4 2481.4L1872.2 2481.3L1873 2485L1873.8 2484.7L1874.6 2487.7L1875.4 2482.1L1876.2 2483.5L1877 2488L1877.8 2482.8L1878.6 2485.8L1879.4 2488.8L1880.2 2483.7L1881 2486.2L1881.8 2489L1882.6 2484.5L1883.4 2485.5L1884.2 2487.5L1885 2490.6L1885.8 2487.6L1886.6 2490.7L1887.4 2487.3L1888.2 2483.9L1889 2491.1L1889.8 2486.9L1890.6 2484.1L1891.4 2488.1L1892.2 2486.9L1893 2482.9L1893.8 2485.7L1894.6 2484.1L1895.4 2486.5L1896.2 2485.8L1897 2491.5L1897.8 2483.2L1898.6 2485.5L1899.4 2482.9L1900.2 2486.1L1901 2485.7L1901.8 2485.3L1902.6 2483.8L1903.4 2484.7L1904.2 2489.2L1905 2489.4L1905.8 2485.4L1906.6 2485.3L1907.4 2481.9L1908.2 2488.1L1909 2479.5L1909.8 2484.2L1910.6 2484.8L1911.4 2485.1L1912.2 2489.5L1913 2486.9L1913.8 2482.9L1914.6 2483.1L1915.4 2487.8L1916.2 2482.7L1917 2486.2L1917.8 2489.9L1918.6 2487.1L1919.4 2492.1L1920.2 2487.3L1921 2486.1L1921.8 2483.8L1922.6 2487.2L1923.4 2486.9L1924.2 2489.7L1925 2488.5L1925.8 2491.2L1926.6 2487.5L1927.4 2487L1928.2 2484.2L1929 2490L1929.8 2486.2L1930.6 2487.5L1931.4 2489.3L1932.2 2488.2L1933 2484.9L1933.8 2489.4L1934.6 2484.6L1935.4 2491.6L1936.2 2492.4L1937 2492.3L1937.8 2487.7L1938.6 2486.5L1939.4 2488.5L1940.2 2490.3L1941 2485.3L1941.8 2489.1L1942.6 2486.4L1943.4 2486.8L1944.2 2483.9L1945 2490L1945.8 2486.4L1946.6 2488.4L1947.4 2488.2L1948.2 2491.3L1949 2490L1949.8 2490.1L1950.6 2491.9L1951.4 2491.1L1952.2 2484.7L1953 2491.3L1953.8 2491.4L1954.6 2485L1955.4 2485.9L1956.2 2490.3L1957 2491.5L1957.8 2483.9L1958.6 2490.4L1959.4 2491.3L1960.2 2487.4L1961 2485.4L1961.8 2485.6L1962.6 2485.5L1963.4 2491.2L1964.2 2490.3L1965 2485.7L1965.8 2490.2L1966.6 2490.8L1967.4 2485.7L1968.2 2491.6L1969 2489L1969.8 2483.9L1970.6 2487L1971.4 2486.5L1972.2 2485.1L1973 2489.1L1973.8 2487.3L1974.6 2492.1L1975.4 2487.5L1976.2 2488.6L1977 2491.6L1977.8 2483.4L1978.6 2486.2L1979.4 2491.7L1980.2 2489.4L1981 2491L1981.8 2484L1982.6 2490.6L1983.4 2485.7L1984.2 2486.2L1985 2486.6L1985.8 2488.2L1986.6 2491.1L1987.4 2489.4L1988.2 2489.7L1989 2485.4L1989.8 2489.8L1990.6 2486.8L1991.4 2491L1992.2 2489L1993 2484.9L1993.8 2487L1994.6 2489.5L1995.4 2489.3L1996.2 2485.4L1997 2485.2L1997.8 2490.2L1998.6 2484.2L1999.4 2488.1L2000.2 2490.5L2001 2485.2L2001.8 2483.6L2002.6 2492.2L2003.4 2490.9L2004.2 2489.9L2005 2490.2L2005.8 2490.8L2006.6 2487.7L2007.4 2491.7L2008.2 2492.2L2009 2489.8L2009.8 2490.1L2010.6 2483.8L2011.4 2485L2012.2 2488.4L2013 2490.6L2013.8 2483.7L2014.6 2491.6L2015.4 2491.7L2016.2 2483.7L2017 2490L2017.8 2489.9L2018.6 2486.1L2019.4 2488.6L2020.2 2485L2021 2487.3L2021.8 2491.7L2022.6 2487.2L2023.4 2487.9L2024.2 2486.4L2025 2489.6L2025.8 2488" stroke="#000" stroke-width="2.8"/>
<path d="M145 1916.2L146 1922.9L147 1919L148 1924.2L149 1924.6L150 1912.2L151 1911L152 1929.2L153 1916.4L154 1915.8L155 1932.6L156 1920.9L157 1929L158 1921L159 1924.5L160 1913.7L161 1924.4L162 1929.5L163 1921.8L164 1926.6L165 1925.1L166 1911.6L167 1926.9L168 1923.2L169 1916.7L170 1910.7L171 1929.2L172 1920.4L173 1925.8L174 1929.3L175 1925.7L176 1930.2L177 1918.5L178 1927.5L179 1919.5L180 1930.4L181 1929.1L182 1911.7L183 1912.5L184 1914.3L185 1930.9L186 1919.1L187 1923.3L188 1916L189 1920.5L190 1917.8L191 1917L192 1922.2L193 1922.1L194 1929.2L195 1924.2L196 1929.7L197 1928.1L198 1931.1L199 1923.9L200 1912.4L201 1928L202 1930.3L203 1928.9L204 1921.3L205 1924.5L206 1913.1L207 1927L208 1921.2L209 1914.6L210 1909.6L211 1927.3L212 1930.3L213 1909.9L214 1925.9L215 1917.1L216 1911.1L217 1914.3L218 1925L219 1927.3L220 1908.5L221 1921.3L222 1908.4L223 1923.5L224 1914.7L225 1927.1L226 1929.3L227 1918.5L228 1929.6L229 1913.9L230 1908.6L231 1920.4L232 1907.4L233 1911.1L234 1915.8L235 1920.4L236 1910L237 1907.4L238 1926.1L239 1913.4L240 1928L241 1926.5L242 1914.7L243 1916.5L244 1917.8L245 1920.6L246 1919.4L247 1918.5L248 1919.8L249 1927.1L250 1917.1L251 1915.3L252 1921.9L253 1910.8L254 1912.2L255 1927.6L256 1917.1L257 1917.7L258 1905.3L259 1914.5L260 1918.2L261 1905.3L262 1918.9L263 1919.2L264 1906L265 1919L266 1915.2L267 1920.1L268 1912.5L269 1920.6L270 1921.2L271 1904.7L272 1905.6L273 1919.6L274 1926.2L275 1909.7L276 1914.4L277 1917.5L278 1911.1L279 1912.1L280 1910.9L281 1912.1L282 1917.3L283 1910.4L284 1912.1L285 1921.2L286 1903.9L287 1916.4L288 1920.1L289 1910.2L290 1908.2L291 1921.5L292 1908.4L293 1907.2L294 1912.8L295 1918.9L296 1905L297 1910L298 1910.2L299 1921.8L300 1912.5L301 1922.2L302 1906.2L303 1910L304 1917.3L305 1922.7L306 1912.5L307 1907.2L308 1904.7L309 1914.2L310 1906.3L311 1920.6L312 1921.3L313 1905.9L314 1908.1L315 1920.4L316 1916.5L317 1920.3L318 1909.5L319 1904.4L320 1908.1L321 1919.8L322 1907.5L323 1909.2L324 1910.8L325 1910.8L326 1910.5L327 1922.5L328 1904.5L329 1900.9L330 1922.9L331 1921.3L332 1923.8L333 1910.8L334 1922.8L335 1922.3L336 1905.6L337 1917.9L338 1920L339 1915.8L340 1912.4L341 1906.9L342 1908.1L343 1905.4L344 1901.6L345 1913.8L346 1906.6L347 1918.9L348 1900.8L349 1921L350 1916L351 1921.4L352 1920.7L353 1920.8L354 1913.1L355 1899.7L356 1917L357 1903.3L358 1906.3L359 1914.9L360 1911.5L361 1908.9L362 1921.3L363 1913.5L364 1907L365 1904.8L366 1919.2L367 1910.1L368 1917.3L369 1907L370 1903.3L371 1911.2L372 1917.9L373 1902.5L374 1917.2L375 1920.2L376 1917.4L377 1917.8L378 1898.3L379 1913.1L380 1918.6L381 1899.2L382 1904.4L383 1904.3L384 1910.4L385 1907.9L386 1909L387 1916.2L388 1897.6L389 1898.9L390 1900.5L391 1900.4L392 1899L393 1920.7L394 1917.7L395 1899.3L396 1909.2L397 1904.7L398 1904.6L399 1905.4L400 1912.5L401 1910.9L402 1905.3L403 1901L404 1904.3L405 1899.1L406 1909.6L407 1913.5L408 1905L409 1897.3L410 1899.6L411 1904.4L412 1910.1L413 1914.6L414 1904.2L415 1914.9L416 1910.2L417 1905.1L418 1903.4L419 1906.5L420 1911.9L421 1904.3L422 1911.5L423 1905.1L424 1899.1L425 1906.9L426 1911.1L427 1893.9L428 1903.5L429 1903.4L430 1915.8L431 1917.3L432 1901.5L433 1916.1L434 1913L435 1897.9L436 1903.5L437 1893.6L438 1913.3L439 1908.8L440 1915.3L441 1912.4L442 1908.7L443 1910.5L444 1905.4L445 1891.6L446 1905.8L447 1888.3L448 1892.2L449 1911L450 1888.8L451 1890L452 1889.9L453 1913.5L454 1891.7L455 1886.5L456 1911.5L457 1888.7L458 1910.6L459 1904.5L460 1908.2L461 1909.8L462 1895L463 1898.4L464 1870.7L465 1892.5L466 1885.5L467 1895.1L468 1878.5L469 1902L470 1909.9L471 1882.2L472 1891.3L473 1899.4L474 1908.2L475 1888.6L476 1886.4L477 1888.6L478 1900.8L479 1905.3L480 1893L481 1891.9L482 1892.7L483 1890.9L484 1893L485 1881.2L486 1895.5L487 1911.8L488 1892L489 1903.6L490 1882.7L491 1901.3L492 1903.4L493 1900.3L494 1894.5L495 1893L496 1898.6L497 1907.6L498 1880.1L499 1877.8L500 1901.3L501 1907L502 1891.4L503 1887L504 1894.2L505 1870.4L506 1871.1L507 1870.3L508 1888.3L509 1880.5L510 1878.6L511 1896.4L512 1906.5L513 1881.2L514 1896.8L515 1885.3L516 1902.2L517 1891.5L518 1878.9L519 1876.7L520 1868.7L521 1886.4L522 1882.3L523 1873.7L524 1880.9L525 1879.1L526 1897L527 1871.4L528 1905.3L529 1884.4L530 1889L531 1883.4L532 1898.1L533 1897.3L534 1886.2L535 1882.8L536 1892.5L537 1897.9L538 1878.6L539 1892.3L540 1901.6L541 1880.6L542 1870.4L543 1870.3L544 1890.4L545 1888.3L546 1900L547 1895.3L548 1869.2L549 1866.8L550 1869.4L551 1865.9L552 1887.2L553 1893.2L554 1894.5L555 1866.8L556 1892L557 1868.3L558 1872.4L559 1884.8L560 1857.1L561 1856.9L562 1887.7L563 1864.3L564 1866.5L565 1875.4L566 1878.9L567 1850.1L568 1863.4L569 1867.2L570 1868.7L571 1856.4L572 1871.7L573 1886.8L574 1862.2L575 1868L576 1849.2L577 1855L578 1870.8L579 1846.3L580 1878.2L581 1877.8L582 1841.6L583 1875.2L584 1847.8L585 1860L586 1852.7L587 1823.8L588 1828.4L589 1814L590 1806.7L591 1772.6L592 1788.8L593 1801.3L594 1799L595 1806L596 1800.4L597 1827.3L598 1829.4L599 1850.8L600 1852.8L601 1850.6L602 1835.8L603 1856.7L604 1856.7L605 1837.8L606 1868.5L607 1858.7L608 1836L609 1870.8L610 1836.9L611 1845.1L612 1861.8L613 1856.5L614 1854.6L615 1858.5L616 1850.3L617 1844L618 1838L619 1833.3L620 1861L621 1862.6L622 1853.4L623 1861.7L624 1845.2L625 1841L626 1846L627 1867L628 1831L629 1850.8L630 1839.5L631 1862.1L632 1844.1L633 1843.2L634 1846.2L635 1852.2L636 1862.2L637 1844L638 1865.4L639 1833.6L640 1840.4L641 1833L642 1833.5L643 1862.4L644 1860.2L645 1836.6L646 1836.8L647 1846.6L648 1860.8L649 1863.9L650 1861L651 1854.2L652 1834.8L653 1845.7L654 1836.8L655 1851.3L656 1853L657 1837.1L658 1839.1L659 1862.3L660 1829.5L661 1863.2L662 1867L663 1869.5L664 1844.8L665 1852.2L666 1853.5L667 1855.7L668 1870.6L669 1857.9L670 1841L671 1865.9L672 1849.9L673 1855.4L674 1861.3L675 1830L676 1864L677 1859.7L678 1852.6L679 1854.4L680 1852L681 1840.7L682 1855.9L683 1834.6L684 1855.4L685 1862.2L686 1853.7L687 1859.5L688 1877.1L689 1874.6L690 1841.7L691 1871L692 1864L693 1839.2L694 1853.2L695 1848.1L696 1841.7L697 1862.2L698 1879.7L699 1853.6L700 1877.8L701 1870.5L702 1846.6L703 1878.3L704 1867.5L705 1881.9L706 1873.1L707 1874.5L708 1857.8L709 1878L710 1883.7L711 1881.1L712 1863.2L713 1877.2L714 1866L715 1850.3L716 1847.8L717 1849.7L718 1855.3L719 1854L720 1868.6L721 1877.4L722 1870.8L723 1866.2L724 1876L725 1861.8L726 1868.8L727 1881.3L728 1866.7L729 1857.7L730 1888L731 1880.7L732 1866.3L733 1866.7L734 1873.6L735 1876.6L736 1861.4L737 1852.5L738 1861.4L739 1885.4L740 1859.2L741 1872.5L742 1861.9L743 1862.7L744 1861.4L745 1871.3L746 1861.9L747 1856.4L748 1860.1L749 1862.7L750 1876.1L751 1858.7L752 1857.4L753 1874.8L754 1873.3L755 1885.5L756 1859.2L757 1873.6L758 1873.5L759 1858.8L760 1896.6L761 1866.8L762 1862L763 1877.3L764 1865.1L765 1883.5L766 1872.7L767 1863.9L768 1861.2L769 1888.2L770 1870.4L771 1890.8L772 1878.2L773 1896.8L774 1872L775 1870.1L776 1870.9L777 1892.6L778 1885.4L779 1874.4L780 1864.7L781 1887.8L782 1899.1L783 1884.6L784 1861.8L785 1863L786 1865.4L787 1868.6L788 1863.6L789 1864.4L790 1887.7L791 1897.2L792 1870.4L793 1900.2L794 1881.2L795 1893.7L796 1898L797 1898.7L798 1864.1L799 1874.3L800 1885.7L801 1898.4L802 1865.8L803 1873.4L804 1894.2L805 1866.4L806 1876.6L807 1874.3L808 1887L809 1896L810 1867.6L811 1888.3L812 1887.7L813 1891.1L814 1880.2L815 1893.3L816 1872.3L817 1873.7L818 1866.3L819 1885.7L820 1873.9L821 1865.3L822 1860.4L823 1878.9L824 1872.9L825 1874.4L826 1859.9L827 1859.7L828 1842.6L829 1854.8L830 1817.9L831 1813.4L832 1790.8L833 1737L834 1644.2L835 1557L836 1476.7L837 1383.2L838 1356.1L839 1391.5L840 1463.4L841 1580.8L842 1667.6L843 1726.3L844 1778.7L845 1801.7L846 1833.5L847 1865.2L848 1844.1L849 1865.4L850 1853.8L851 1856L852 1877.8L853 1866.1L854 1861.4L855 1866.4L856 1884.2L857 1883.3L858 1865.2L859 1873.3L860 1898.6L861 1874.5L862 1886.5L863 1882.3L864 1894.8L865 1889.4L866 1895.9L867 1888L868 1877.1L869 1877.2L870 1874.4L871 1898.9L872 1876.2L873 1873.6L874 1904.2L875 1879.9L876 1902.3L877 1876.8L878 1889.1L879 1881.7L880 1901.1L881 1894.6L882 1895.6L883 1899.5L884 1903.2L885 1886.9L886 1895.1L887 1890.4L888 1880.2L889 1902.8L890 1895.5L891 1902.4L892 1883.8L893 1894.2L894 1892L895 1900.1L896 1880.5L897 1888.7L898 1892.9L899 1880.5L900 1895L901 1900.3L902 1890.6L903 1897L904 1895.2L905 1882.6L906 1885.5L907 1903.2L908 1881.3L909 1881.4L910 1867.7L911 1868L912 1862.4L913 1881.7L914 1872.9L915 1876.4L916 1880.7L917 1872.2L918 1885.5L919 1877.7L920 1878L921 1897.1L922 1898.6L923 1902.2L924 1890L925 1899.8L926 1889.8L927 1907.9L928 1906.1L929 1887.7L930 1907L931 1885L932 1882.5L933 1901.2L934 1888.6L935 1895.4L936 1899L937 1881.3L938 1902.3L939 1888.4L940 1893.1L941 1890.5L942 1902.3L943 1902.4L944 1888.8L945 1883.3L946 1889.1L947 1892.4L948 1882.5L949 1884.6L950 1902.5L951 1900.6L952 1908.6L953 1908.5L954 1905.3L955 1890.2L956 1884L957 1888.3L958 1892.5L959 1894.1L960 1894.1L961 1888.1L962 1901.6L963 1883.4L964 1886.1L965 1894.2L966 1884.6L967 1858.3L968 1840.6L969 1836.5L970 1790.4L971 1774.6L972 1778.6L973 1787L974 1795.9L975 1815.8L976 1841.4L977 1874.6L978 1877.4L979 1900.2L980 1899.4L981 1908.1L982 1882.5L983 1888.3L984 1884.5L985 1897.6L986 1895.5L987 1887.7L988 1902.6L989 1889.8L990 1896.5L991 1895L992 1911.4L993 1900.6L994 1896.2L995 1890.2L996 1901.6L997 1907.5L998 1909.1L999 1916.2L1000 1913.4L1001 1897.3L1002 1894.2L1003 1912.4L1004 1913.4L1005 1905.3L1006 1914.6L1007 1906.4L1008 1898.5L1009 1895.3L1010 1890.8L1011 1908.9L1012 1916.1L1013 1916.3L1014 1903.6L1015 1909.3L1016 1916.8L1017 1913.4L1018 1907.2L1019 1901.8L1020 1904.7L1021 1894.6L1022 1894.9L1023 1909.2L1024 1918L1025 1905.1L1026 1901.1L1027 1899.4L1028 1902.3L1029 1912.2L1030 1902.1L1031 1916.5L1032 1893.4L1033 1897.9L1034 1903.8L1035 1900.5L1036 1913L1037 1912.3L1038 1915.2L1039 1906L1040 1889.2L1041 1904.7L1042 1903.8L1043 1901.9L1044 1895.8L1045 1908L1046 1913.6L1047 1890.4L1048 1906.4L1049 1897.8L1050 1901.7L1051 1912.4L1052 1914.1L1053 1905L1054 1892.1L1055 1912.6L1056 1891.4L1057 1897L1058 1909.5L1059 1894.8L1060 1893.4L1061 1912.6L1062 1912.2L1063 1894.3L1064 1896.3L1065 1893L1066 1888.6L1067 1891.9L1068 1912.4L1069 1886.8L1070 1890.9L1071 1889.9L1072 1886.4L1073 1898.8L1074 1904.8L1075 1907.4L1076 1901.4L1077 1906.5L1078 1883.4L1079 1891.1L1080 1910.1L1081 1884.8L1082 1890.3L1083 1896.2L1084 1890L1085 1897.7L1086 1883.5L1087 1888.7L1088 1908.8L1089 1885.8L1090 1907.1L1091 1886.6L1092 1909.6L1093 1900.6L1094 1899.9L1095 1885.7L1096 1883.3L1097 1903.1L1098 1886.7L1099 1887.1L1100 1904.9L1101 1906.3L1102 1883.2L1103 1908.8L1104 1896.9L1105 1892.6L1106 1884.9L1107 1892.8L1108 1909.5L1109 1889.8L1110 1885.6L1111 1886L1112 1885.5L1113 1891.8L1114 1907.5L1115 1884.1L1116 1887.3L1117 1908.1L1118 1909.7L1119 1909.2L1120 1888.6L1121 1891.6L1122 1908.2L1123 1895.1L1124 1901.1L1125 1890.2L1126 1881.9L1127 1890.8L1128 1901.8L1129 1902.5L1130 1896.3L1131 1892.9L1132 1894.5L1133 1891L1134 1892.4L1135 1898.8L1136 1878.3L1137 1885L1138 1888.5L1139 1878.5L1140 1851.1L1141 1863.8L1142 1853.1L1143 1831.7L1144 1837.2L1145 1842.8L1146 1847.7L1147 1882.3L1148 1874.2L1149 1893L1150 1876.3L1151 1876.4L1152 1902L1153 1901.2L1154 1907.5L1155 1899.6L1156 1895.6L1157 1902.6L1158 1884.3L1159 1896.9L1160 1894.4L1161 1886.4L1162 1899.1L1163 1891.6L1164 1896.8L1165 1893.2L1166 1891.8L1167 1893L1168 1899.7L1169 1910.3L1170 1909.1L1171 1907.1L1172 1906.4L1173 1891.4L1174 1910.4L1175 1891L1176 1887.1L1177 1897.5L1178 1903.9L1179 1893.2L1180 1901.6L1181 1891.6L1182 1910.5L1183 1896.4L1184 1897.1L1185 1898.6L1186 1908L1187 1911.1L1188 1898.6L1189 1896.2L1190 1901.1L1191 1886.1L1192 1895.9L1193 1907.4L1194 1905.5L1195 1885.9L1196 1907.7L1197 1894.8L1198 1911.2L1199 1894.4L1200 1890.2L1201 1899.4L1202 1908.6L1203 1896.2L1204 1908.2L1205 1903.9L1206 1894.4L1207 1892.7L1208 1898.3L1209 1895.4L1210 1894.7L1211 1902.3L1212 1908.4L1213 1900.5L1214 1888.6L1215 1890.6L1216 1894.7L1217 1901.3L1218 1888.4L1219 1886.8L1220 1893.3L1221 1892.3L1222 1885.4L1223 1899.2L1224 1909.6L1225 1899L1226 1904.5L1227 1906.9L1228 1907.1L1229 1909.1L1230 1896.2L1231 1902.7L1232 1887.3L1233 1907.8L1234 1894L1235 1896.4L1236 1907.4L1237 1890.7L1238 1887.6L1239 1904.1L1240 1896.9L1241 1881.3L1242 1877.3L1243 1882.3L1244 1867.8L1245 1883.4L1246 1858.1L1247 1852.5L1248 1849.3L1249 1850.1L1250 1850.5L1251 1862.2L1252 1871.1L1253 1872.9L1254 1870.4L1255 1899.5L1256 1895.5L1257 1881.6L1258 1893L1259 1902.5L1260 1909.7L1261 1885.2L1262 1884.1L1263 1897.1L1264 1895.7L1265 1908.7L1266 1907L1267 1893.8L1268 1896.3L1269 1900.8L1270 1909.1L1271 1890.8L1272 1896L1273 1887.9L1274 1902.8L1275 1886.4L1276 1910.8L1277 1899.9L1278 1901.2L1279 1888.2L1280 1892.2L1281 1898.6L1282 1909L1283 1900.6L1284 1893.8L1285 1912.6L1286 1904.1L1287 1900.6L1288 1891.9L1289 1894.6L1290 1910.8L1291 1890.3L1292 1901.1L1293 1903.5L1294 1896.5L1295 1907.6L1296 1911.5L1297 1910.1L1298 1907L1299 1892.8L1300 1889L1301 1899.1L1302 1895.9L1303 1892.8L1304 1911L1305 1893.6L1306 1909.8L1307 1912.9L1308 1891.2L1309 1912.4L1310 1898.7L1311 1893.8L1312 1893.2L1313 1889.3L1314 1901.7L1315 1898.7L1316 1911.2L1317 1910.8L1318 1890.2L1319 1899.4L1320 1899.1L1321 1893.6L1322 1895.6L1323 1896L1324 1907.5L1325 1898.1L1326 1892.1L1327 1895.1L1328 1900.9L1329 1904.1L1330 1895.6L1331 1907.6L1332 1894.7L1333 1906.7L1334 1905L1335 1893.5L1336 1908.6L1337 1899.1L1338 1902.9L1339 1904.4L1340 1905.1L1341 1900.2L1342 1889.9L1343 1909.1L1344 1911L1345 1901.1L1346 1903.4L1347 1895.2L1348 1911.7L1349 1906L1350 1893.7L1351 1909.3L1352 1913.7L1353 1896.7L1354 1913.7L1355 1900.1L1356 1892L1357 1906.1L1358 1896L1359 1906.3L1360 1902.3L1361 1889.6L1362 1900.5L1363 1908.9L1364 1898.9L1365 1900.4L1366 1908.7L1367 1897.6L1368 1898.6L1369 1900.8L1370 1906.9L1371 1890.3L1372 1887.2L1373 1904.4L1374 1898.6L1375 1891.8L1376 1906.9L1377 1906.3L1378 1896.9L1379 1908L1380 1903.4L1381 1900.3L1382 1887.3L1383 1878.6L1384 1894.2L1385 1893.1L1386 1879.2L1387 1877L1388 1871L1389 1851L1390 1846.8L1391 1822.8L1392 1793.7L1393 1759.7L1394 1745.4L1395 1719.6L1396 1722.8L1397 1715.9L1398 1741.5L1399 1762.4L1400 1794.9L1401 1823.9L1402 1832.2L1403 1846.9L1404 1869.9L1405 1870.9L1406 1884.6L1407 1879.8L1408 1880.8L1409 1894.1L1410 1905.6L1411 1905.3L1412 1897.1L1413 1894.9L1414 1886.9L1415 1893L1416 1894.5L1417 1911.3L1418 1890.3L1419 1912.1L1420 1900.1L1421 1899.3L1422 1895L1423 1913.3L1424 1893.4L1425 1903.5L1426 1902L1427 1894.1L1428 1894.8L1429 1914.6L1430 1909.7L1431 1908.2L1432 1912.7L1433 1891.9L1434 1907.6L1435 1908.9L1436 1895.4L1437 1901.4L1438 1914.8L1439 1898.1L1440 1909.4L1441 1894L1442 1907L1443 1896.7L1444 1902.9L1445 1899.4L1446 1912.2L1447 1909L1448 1902.8L1449 1907.6L1450 1900.9L1451 1910.6L1452 1896.5L1453 1903.9L1454 1905L1455 1899.9L1456 1891.1L1457 1894.3L1458 1906.4L1459 1895.3L1460 1909.4L1461 1902.9L1462 1914.4L1463 1911.7L1464 1908.6L1465 1899.5L1466 1891L1467 1904.2L1468 1909L1469 1913.5L1470 1895.1L1471 1893.9L1472 1915L1473 1908.8L1474 1902.3L1475 1908.7L1476 1893.7L1477 1903.8L1478 1907L1479 1905.3L1480 1894L1481 1893.4L1482 1905.9L1483 1912.5L1484 1893.4L1485 1890.1L1486 1892L1487 1910L1488 1899.9L1489 1901.6L1490 1915.3L1491 1905.5L1492 1896.7L1493 1907.8L1494 1890L1495 1897.2L1496 1907.8L1497 1894.4L1498 1890.8L1499 1903.2L1500 1898.4L1501 1914.7L1502 1892.6L1503 1910.4L1504 1899.9L1505 1910.5L1506 1901.4L1507 1907L1508 1898.4L1509 1895.8L1510 1901.5L1511 1910.4L1512 1898.8L1513 1895.9L1514 1900.6L1515 1892.5L1516 1898.1L1517 1904.6L1518 1903.9L1519 1905.2L1520 1897.5L1521 1890.8L1522 1890.8L1523 1898.7L1524 1895.1L1525 1904.5L1526 1896.8L1527 1909.4L1528 1905.3L1529 1906.9L1530 1908.7L1531 1903.3L1532 1900.9L1533 1897.9L1534 1891.8L1535 1910.2L1536 1902.8L1537 1892.9L1538 1913.9L1539 1905.4L1540 1906.6L1541 1902.2L1542 1894.5L1543 1916.7L1544 1896L1545 1901.1L1546 1917.2L1547 1895.4L1548 1905L1549 1904.7L1550 1899.1L1551 1916.3L1552 1903.7L1553 1893.8L1554 1905.5L1555 1894L1556 1911.8L1557 1916L1558 1917.1L1559 1895.8L1560 1911.7L1561 1902.6L1562 1907L1563 1902.9L1564 1903.2L1565 1899.1L1566 1911.6L1567 1898.4L1568 1920.2L1569 1897.3L1570 1920.2L1571 1901L1572 1898.3L1573 1914.8L1574 1909.4L1575 1915.3L1576 1908.9L1577 1911.9L1578 1898.2L1579 1913L1580 1908.9L1581 1920.1L1582 1896.3L1583 1897.8L1584 1913L1585 1919.1L1586 1906.6L1587 1913.8L1588 1910L1589 1905.8L1590 1907.6L1591 1910.9L1592 1896.7L1593 1903.5L1594 1914.2L1595 1902.2L1596 1907.5L1597 1902.1L1598 1904.5L1599 1911.6L1600 1913.8L1601 1919L1602 1906.9L1603 1899.9L1604 1902.9L1605 1895.6L1606 1899.5L1607 1907.3L1608 1906.9L1609 1896.5L1610 1893.5L1611 1889.5L1612 1889.3L1613 1894.9L1614 1886.2L1615 1899.2L1616 1889.2L1617 1882.1L1618 1883.8L1619 1874.7L1620 1893.3L1621 1895.9L1622 1888.8L1623 1900.3L1624 1891.6L1625 1892.4L1626 1894.5L1627 1895.3L1628 1906.6L1629 1908.4L1630 1911.2L1631 1896.4L1632 1913.1L1633 1906.3L1634 1904L1635 1907.2L1636 1905.6L1637 1899.9L1638 1904.7L1639 1910.8L1640 1912.5L1641 1917.3L1642 1899.6L1643 1916.6L1644 1914.2L1645 1911.9L1646 1918.2L1647 1897.3L1648 1912.6L1649 1915.2L1650 1895.6L1651 1906.4L1652 1913.9L1653 1896.3L1654 1907.6L1655 1905.3L1656 1888.8L1657 1875L1658 1868L1659 1872.6L1660 1851.2L1661 1837.6L1662 1832.4L1663 1841L1664 1827.8L1665 1830.4L1666 1864.1L1667 1860.2L1668 1872.3L1669 1895.3L1670 1885.3L1671 1885.5L1672 1908.5L1673 1895.3L1674 1896.4L1675 1914.9L1676 1898.5L1677 1915.4L1678 1902.1L1679 1901.7L1680 1899.9L1681 1908.1L1682 1908.7L1683 1904.9L1684 1907.7L1685 1902.8L1686 1916L1687 1918.4L1688 1914.1L1689 1915.7L1690 1897.6L1691 1901.9L1692 1900.7L1693 1899.3L1694 1918.6L1695 1916.6L1696 1916.1L1697 1906.4L1698 1894.3L1699 1900L1700 1888.8L1701 1906.7L1702 1888.6L1703 1886.7L1704 1900.7L1705 1882.1L1706 1900.3L1707 1887.5L1708 1898.6L1709 1888L1710 1909.7L1711 1900.1L1712 1900.8L1713 1909.7L1714 1909.5L1715 1902.1L1716 1899.7L1717 1911L1718 1898.1L1719 1918.7L1720 1906.2L1721 1902.2L1722 1906.2L1723 1901.2L1724 1906.1L1725 1911.6L1726 1908.4L1727 1906.8L1728 1905.8L1729 1910.5L1730 1917.5L1731 1909.4L1732 1917.3L1733 1910.4L1734 1901.7L1735 1902.8L1736 1918.9L1737 1909.9L1738 1907.3L1739 1909.9L1740 1917L1741 1904.5L1742 1902.3L1743 1899.7L1744 1887.8L1745 1896.4L1746 1890.7L1747 1887.9L1748 1885.5L1749 1887.4L1750 1896.6L1751 1888.2L1752 1911.3L1753 1894.3L1754 1914.9L1755 1900.5L1756 1916.6L1757 1904.9L1758 1901.2L1759 1912.6L1760 1920L1761 1920.4L1762 1921.3L1763 1923.9L1764 1902.1L1765 1909.9L1766 1903.6L1767 1919.1L1768 1912L1769 1919L1770 1920.3L1771 1925.2L1772 1917.7L1773 1922.4L1774 1914.7L1775 1903.7L1776 1922.8L1777 1904L1778 1903.8L1779 1921.4L1780 1908.5L1781 1917.5L1782 1902.6L1783 1906.9L1784 1918.8L1785 1902.8L1786 1914L1787 1924L1788 1907L1789 1918.6L1790 1919.5L1791 1916.6L1792 1920L1793 1918.4L1794 1902.4L1795 1906.6L1796 1914.7L1797 1924.8L1798 1907.2L1799 1915.9L1800 1905.1L1801 1922L1802 1912.5L1803 1914.3L1804 1917.8L1805 1905.3L1806 1919.2L1807 1920.9L1808 1922.3L1809 1908.7L1810 1907.6L1811 1906L1812 1923.2L1813 1912.4L1814 1911.3L1815 1914.3L1816 1918.5L1817 1909.6L1818 1910.1L1819 1920.1L1820 1920.3L1821 1909.1L1822 1903.9L1823 1923.9L1824 1919.2L1825 1916.1L1826 1911.7L1827 1924.6L1828 1912.3L1829 1907.3L1830 1904.6L1831 1910.4L1832 1916.2L1833 1910.8L1834 1924.3L1835 1917.4L1836 1912.9L1837 1917.7L1838 1916.3L1839 1916.7L1840 1913.9L1841 1914.5L1842 1913.8L1843 1921.7L1844 1906.9L1845 1920.7L1846 1909.4L1847 1922.2L1848 1904.2L1849 1913.8L1850 1912.8L1851 1919.1L1852 1907.3L1853 1908.7L1854 1905.7L1855 1915.7L1856 1916L1857 1902.7L1858 1906.9L1859 1907.4L1860 1924.9L1861 1913.3L1862 1915.9L1863 1909.5L1864 1918.1L1865 1921.6L1866 1918.4L1867 1903L1868 1913.1L1869 1914.2L1870 1904L1871 1921.2L1872 1910.4L1873 1909.8L1874 1917.4L1875 1916.5L1876 1914.5L1877 1922.9L1878 1915.1L1879 1911L1880 1904.7L1881 1915.9L1882 1911.6L1883 1915.5L1884 1911.2L1885 1903.4L1886 1904.2L1887 1906.9L1888 1905.5L1889 1922.8L1890 1916.7L1891 1908.9L1892 1919.7L1893 1917.9L1894 1904.9L1895 1920.6L1896 1908.7L1897 1926.3L1898 1906.8L1899 1910L1900 1909.2L1901 1923.2L1902 1922.2L1903 1916.7L1904 1906.9L1905 1913.2L1906 1919.4L1907 1904.7L1908 1924.4L1909 1922.6L1910 1924.6L1911 1919.3L1912 1917.4L1913 1925.5L1914 1909.4L1915 1910.3L1916 1906.1L1917 1907.4L1918 1921.4L1919 1905.4L1920 1920.2L1921 1912.2L1922 1923.1L1923 1920.5L1924 1918.8L1925 1922.4L1926 1904.2L1927 1909.2L1928 1911.5L1929 1912.9L1930 1918.3L1931 1923L1932 1919.9L1933 1924.1L1934 1918.8L1935 1911.1L1936 1914.5L1937 1920L1938 1921.4L1939 1911.4L1940 1911L1941 1916.9L1942 1908.2L1943 1922.9L1944 1903L1945 1917.6L1946 1913.9L1947 1907.3L1948 1915.8L1949 1913.6L1950 1924.5L1951 1922.8L1952 1916.1L1953 1922.5L1954 1922.7L1955 1906.6L1956 1921.4L1957 1921.5L1958 1925L1959 1919.8L1960 1911.6L1961 1907.4L1962 1917.4L1963 1907.5L1964 1919.7L1965 1915.6L1966 1921.2L1967 1910.7L1968 1909.5L1969 1922.9L1970 1917.5L1971 1911.1L1972 1915.2L1973 1912.4L1974 1917L1975 1914.1L1976 1909L1977 1924.4L1978 1922.3L1979 1919.5L1980 1908.7L1981 1906.9L1982 1918.8L1983 1920.8L1984 1917L1985 1907.2L1986 1918.5L1987 1914.1L1988 1910.7L1989 1915.5L1990 1912.4L1991 1916.8L1992 1919.1L1993 1924.2L1994 1904.8L1995 1915L1996 1923.3L1997 1916.9L1998 1915.2L1999 1921.2L2000 1903L2001 1919.9L2002 1916.1L2003 1915.2L2004 1909.1L2005 1915.9L2006 1905L2007 1913.8L2008 1907.9L2009 1922.8L2010 1920L2011 1912.6L2012 1918.8L2013 1910.6L2014 1913.7L2015 1905.7L2016 1921L2017 1918.9L2018 1918.8L2019 1903.9L2020 1920.1L2021 1902.3L2022 1914.5L2023 1912.8L2024 1903.3L2025 1911.3L2026 1921.5" stroke="#f00" stroke-width="6"/>
<path d="M145 1265L146 1270.2L147 1270.2L148 1260.7L149 1261.1L150 1269.5L151 1268.6L152 1268L153 1264.2L154 1267.7L155 1267.8L156 1267.7L157 1263.3L158 1266.4L159 1266.2L160 1269.9L161 1273.1L162 1272.8L163 1268L164 1268L165 1266.5L166 1264.2L167 1261.2L168 1260.7L169 1265L170 1263L171 1263.2L172 1268.3L173 1263.9L174 1263.8L175 1259.9L176 1257.2L177 1260L178 1257.5L179 1261.1L180 1266L181 1262L182 1256.3L183 1263.5L183.6 1259L184 1262.2L185 1261.6L186 1263.5L187 1261.9L188 1262.2L189 1257.4L190 1264.3L191 1264.1L192 1255.3L193 1261.8L194 1261.4L195 1258.6L196 1259.3L197 1258.9L198 1263.7L199 1259L200 1262.6L201 1257.4L202 1263.2L203 1263.4L204 1258.6L205 1259.7L206 1263.6L207 1261.5L208 1258.9L209 1255.9L210 1257.1L211 1261.2L212 1255.3L212.6 1259L213 1263.2L214 1255.8L215 1262.3L216 1255.3L217 1261.8L218 1258.6L219 1255.9L220 1255.6L221 1256.5L222 1255.3L223 1251.9L224 1250.3L225 1253L226 1257.1L227 1253.3L228 1246.9L229 1254.4L230 1252.9L231 1254.4L232 1246.1L233 1249L234 1251.9L235 1244.7L236 1251.4L237 1247.6L238 1247.3L239 1254.7L240 1246.5L241 1251.3L242 1255.2L243 1248.8L244 1248.7L245 1256.3L246 1251.6L247 1255L248 1247.8L249 1251.7L250 1249.9L251 1255.6L252 1249.4L253 1259.2L254 1249.3L255 1257.2L256 1255L257 1249.5L258 1251.9L259 1257.8L260 1250.4L261 1250.5L262 1255.8L263 1252.3L264 1248.3L265 1258.4L266 1249.1L267 1247.6L268 1250.7L269 1253.5L270 1254.7L271 1247.6L272 1249.8L273 1246.3L274 1250.6L275 1253.8L276 1253.3L276.6 1250.6L277 1254.5L278 1251.9L279 1252L280 1249.3L281 1245.9L282 1242.2L283 1245.8L284 1241.2L285 1237.9L286 1240.5L287 1244L288 1235.1L289 1238.9L290 1235.9L291 1236L292 1236.7L293 1233.2L294 1242.4L295 1235.4L296 1239.6L297 1238.1L298 1234.3L299 1240.6L300 1236.6L301 1236.2L302 1236.4L303 1238.3L304 1238.1L305 1244.4L306 1243.5L307 1249.2L308 1249.2L308.5 1244.7L309 1249.6L310 1240.5L311 1241.9L312 1238.9L313 1241.6L314 1241.1L315 1242.1L316 1240.2L317 1234.5L318 1235.4L319 1235.6L320 1229.1L321 1228.6L322 1231.6L323 1231.7L324 1227.5L325 1234.3L326 1229L327 1227.6L328 1228.5L329 1229.1L330 1229L331 1232.4L332 1231.9L333 1230.2L334 1234L335 1229.3L336 1237L337 1237.7L338 1235.2L339 1232L340 1232.9L341 1233.7L342 1228L343 1232.1L343.4 1233L344 1233L345 1228.8L346 1227.3L347 1234.5L348 1229.3L349 1230.4L350 1234.3L351 1230.4L352 1226.5L353 1233.5L354 1226.4L355 1222.1L356 1228.8L357 1222L358 1223.7L359 1229L360 1226.6L360.8 1224.4L361 1219L362 1222.4L363 1220.7L364 1220.3L365 1216.1L366 1218.9L367 1212.2L368 1213.2L369 1212.9L370 1217.5L371 1207.3L372 1213.2L372.4 1210L373 1206.5L374 1210.2L375 1207.9L376 1208.3L377 1211.1L378 1206.8L379 1203.5L380 1203.1L381 1202.3L382 1210.3L383 1207.7L384 1210.8L385 1207.5L386 1199.9L387 1206.4L388 1207.3L389 1206.4L390 1203.6L391 1201.7L392 1202.4L392.8 1202.6L393 1205.6L394 1199.1L395 1200.9L396 1199.5L397 1203.6L398 1201.1L399 1201.6L400 1199.7L401 1193L402 1191.4L403 1193.3L404 1189.9L405 1190.8L406 1192.6L407 1194.2L407.3 1189.5L408 1189.7L409 1191.2L410 1182.6L411 1184.3L412 1190.1L413 1180.2L414 1182L415 1177.3L416 1176.6L417 1184.2L418 1184.2L419 1178L420 1178.6L421 1172.1L422 1172.8L423 1171.1L424 1174.8L425 1173.9L426 1170.3L427 1170.2L428 1164.8L429 1168.4L430 1171.7L431 1168.6L432 1160.7L433 1164.1L434 1165.2L435 1159.3L436 1165L436.4 1160.5L437 1159.1L438 1160L439 1155.3L440 1159.8L441 1156L442 1152.2L443 1146.2L444 1147.7L445 1141.8L446 1146L447 1147.4L448 1138.5L449 1140.3L450 1138.4L451 1137L452 1135.7L453 1138.6L454 1140.8L455 1137.9L456 1135.1L457 1140.1L458 1132.9L459 1137.1L460 1135.8L461 1136.6L462 1137.3L463 1130.1L464 1134.1L465 1131.4L466 1134L467 1137L468 1132.9L468.3 1131.4L469 1124.9L470 1127.6L471 1128.2L472 1127.9L473 1123.5L474 1123.2L475 1113.1L476 1120.5L477 1116.3L478 1113.1L479 1114.1L480 1108L481 1110.2L482 1100.3L483 1105.9L484 1103.6L485 1096L486 1099.7L487 1096.3L488 1090.5L489 1095L490 1086.4L491 1089.4L492 1085.8L493 1082.2L494 1083.6L494.5 1082L495 1081.9L496 1079.7L497 1088.5L498 1079.5L499 1079.4L500 1085.1L501 1089.5L502 1088.2L503 1089.8L504 1087.5L505 1090.2L506 1087.1L507 1087L508 1090.1L509 1090.7L510 1083.1L511 1080.9L512 1084.8L513 1076.2L514 1079.1L515 1076.7L516 1070.1L517 1070L518 1068.3L519 1066.2L520 1056.2L521 1053.7L522 1053L523 1051L523.5 1050L524 1047.6L525 1044.1L526 1049.6L527 1053.7L528 1046.8L529 1048.2L530 1046.2L531 1046.4L532 1050.7L533 1044.2L534 1047.5L535 1045.3L536 1045.5L537 1049.1L538 1044.3L539 1038L540 1043.6L541 1036.3L542 1037.8L543 1037.4L544 1033.9L545 1029.3L546 1031.8L547 1022.2L548 1025.7L549 1021.2L549.7 1021L550 1022.2L551 1028.4L552 1030.8L553 1032.1L554 1032L555 1034.2L556 1039.4L557 1040.2L558 1043.5L558.4 1047L559 1050.5L560 1039.3L561 1044.1L562 1037.3L563 1034.8L564 1032L565 1027.2L566 1028.7L567 1026.8L568 1023.6L569 1027.1L570 1025.9L571 1032.9L572 1033.7L573 1028.9L574 1031.5L575 1035.1L576 1029.1L577 1027.3L577.4 1031.6L578 1026L579 1020.5L580 1019.8L581 1011.9L582 1006.6L583 1005.4L584 995.2L584.5 995L585 993.8L586 984.7L587 975.1L588 971L589 959.3L590 956.2L591 948.9L592 937.7L593 931.9L593.4 927L594 934.4L595 936.3L596 940.7L597 946.2L598 951.2L599 953.9L600 960.4L600.7 959L601 958.5L602 966.2L603 971.3L604 973.2L605 978.1L606 980.7L607 992.6L608 991.7L609 997.5L609.4 999.6L610 1002.1L611 992L612 996.8L613 985.7L614 981.9L615 982.2L616 979.4L617 982.1L618 978.9L619 975.2L619.6 970.6L620 972.6L621 980.2L622 984.1L623 996.1L624 999.6L625 995.2L626 991.1L627 991.3L628 983.3L629 981.7L630 984.5L631 972.8L631.2 976.4L632 974.2L633 977L634 979.5L635 983.2L636 983.5L637 986.4L638 987.4L638.5 991L639 989.5L640 995.6L641 995.1L642 997.8L643 1004L644 999.2L645 1002.4L646 1011.9L647 1009.8L647.2 1011L648 1009.3L649 997.8L650 995.8L651 993.1L652 983L653 979L654 985L655 986.5L656 987.7L657 996.8L658 994.1L659 998.1L660 1002.8L661 1003L662 1011.3L663 1012.2L664 1015.4L665 1018.1L666 1025.7L667 1029.5L667.5 1025.8L668 1026.4L669 1017.1L670 1011.2L671 1006.7L672 996.8L673 991.6L673.3 993.8L674 999.5L675 990.9L676 1000.3L677 998.2L678 1001.4L679 993.1L680 996.2L681 1002.1L682 999.6L683 998.9L684 1003.9L685 1010.2L686 1012.5L687 1016.3L688 1025.3L689 1023.8L690 1036.4L690.7 1034.5L691 1035.4L692 1026.9L693 1033.2L694 1024.2L695 1024.3L696 1022.7L697 1016.2L698 1017.5L699 1010.4L699.5 1014L700 1012.4L701 1022.8L702 1025.1L703 1025.3L704 1030L705 1035.1L706 1031.1L707 1037.7L708 1037.3L709 1039.9L709.6 1046L710 1039.4L711 1033.6L712 1025.2L713 1019.6L714 1013.9L715 1009L716 1004.2L717 993.8L718 1005.3L719 1011.4L720 1017.5L721 1028.8L722 1030.4L723 1037.7L724 1049L725 1051.5L726 1048.6L727 1043.3L728 1044.2L729 1042.5L730 1043L731 1042.1L732 1040.9L733 1044.3L734 1043.5L735 1040L736 1038.2L737 1035.3L737.2 1037.4L738 1042.5L739 1047.5L740 1043L741 1050.6L742 1053.6L743 1056.1L744 1052.9L745 1061L746 1060.5L747 1063.4L748 1070.2L748.9 1072L749 1073.4L750 1071.1L751 1070.3L752 1067.9L753 1063.6L754 1057.3L755 1062.7L756 1061.2L757 1059.4L758 1055L759 1047.3L760 1046.8L760.5 1049L761 1045L762 1051.2L763 1050.7L764 1047.4L765 1056.2L766 1056.9L767 1056.6L768 1052.4L769 1051L770 1050.6L771 1057.6L772 1056.7L772.1 1054.8L773 1058.1L774 1069.6L775 1072.6L776 1077.1L777 1083L778 1089.7L779 1090.8L780 1086.5L781 1087.3L782 1080.4L783 1085.1L784 1079.2L785 1084.6L786 1075.9L787 1075.8L788 1076.6L789 1073.8L790 1073.8L791 1076.6L792 1067.7L793 1072.3L794 1070.2L795 1069.9L795.3 1066.4L796 1067.5L797 1069.9L798 1071.2L799 1074.8L800 1075L801 1076.7L802 1081.9L803 1081.3L804 1086.8L805 1086.5L806 1087.6L807 1084.7L808 1083.2L809 1088L810 1090.8L811 1083.7L812 1088.1L813 1088.5L814 1091L815 1088.8L815.7 1086.8L816 1085.2L817 1085.8L818 1093.9L819 1090L820 1088.6L821 1099.1L822 1093.5L823 1098.4L824 1089.1L825 1081.5L826 1073.3L827 1069.4L828 1060L829 1035.7L830 1013L831 990L832 960L833 932.5L834 898.9L834.6 883.4L835 868.1L836 827.1L837 787.9L837.5 770L838 758.8L839 734.1L840 707.6L840.4 702L841 716.8L842 741.9L843 763.8L843.3 770L844 789.3L845 818.5L846 846.7L846.2 850L847 868.6L848 895L849 924.2L850 949.5L850.5 960L851 973.5L852 1006L853 1037L853.5 1050L854 1059.4L855 1077.9L856 1094.4L856.4 1101.3L857 1099.2L858 1098.9L859 1097.8L860 1104.8L861 1099.6L862 1105.1L862.2 1104L863 1106.4L864 1111.2L865 1120.5L866 1119.4L867 1124.5L868 1127.9L869 1130.7L870 1135L871 1142L872 1142L873 1144.7L874 1136.5L875 1145.4L876 1142.1L877 1135.1L878 1141.8L879 1138.1L879.6 1139L880 1139.6L881 1136.2L882 1141.5L883 1142.6L884 1146.4L885 1145.3L886 1147.6L887 1149L888 1144.5L888.3 1147.8L889 1141L890 1142.9L891 1136.6L892 1134L893 1133L894 1132.3L895 1130.4L895.6 1127.5L896 1130.6L897 1137.3L898 1133.3L899 1141.6L900 1141.1L901 1150.6L902 1152.3L902.9 1156.5L903 1152.2L904 1150.7L905 1150.6L906 1145.3L907 1146.3L908 1137L908.7 1136L909 1134.6L910 1141.7L911 1139.1L912 1134.6L913 1142.7L914 1139.1L915 1146.1L916 1143.6L917 1146.3L918 1148.1L919 1144.9L920 1150.6L921 1141.4L922 1145.6L923 1151.7L924 1143.8L925 1151.7L926 1150.7L927 1158.9L928 1159.4L929 1164.1L930 1159.8L931 1167.6L932 1171.6L933 1173.2L934 1176.3L934.8 1179.8L935 1182.6L936 1173.9L937 1170.7L938 1174.3L939 1176.1L940 1172.7L941 1169.1L942 1163.2L943 1167.6L943.5 1162.3L944 1157.7L945 1160.7L946 1167.3L947 1169.2L948 1164.7L949 1170.8L950 1163.1L951 1169L952 1164.1L953 1166.6L954 1166.9L955 1171L956 1164.2L957 1166.8L958 1166.1L959 1162.2L960 1164.4L961 1156.6L962 1159.8L963 1158.2L963.9 1156.5L964 1154.7L965 1150.2L966 1134.8L967 1128.3L968 1120L969 1113.7L970 1107L971 1106.3L972 1096.9L972.6 1092.6L973 1095.6L974 1101.8L975 1108.8L976 1120.2L977 1125.8L978 1131.4L978.4 1133L979 1136L980 1149.1L981 1154.9L982 1166.3L983 1173.1L984 1188.6L984.2 1188.5L985 1189.1L986 1180.1L987 1174.2L988 1165.7L988.6 1165L989 1165.8L990 1169.8L991 1173.1L992 1175.3L993 1178.4L994 1187.2L995 1193L995.8 1191.4L996 1194.5L997 1190.3L998 1182.2L999 1183L1000 1186.5L1001 1186L1001.6 1179.8L1002 1180.6L1003 1181.6L1004 1183.5L1005 1179.6L1006 1185.3L1007 1182.3L1008 1188.2L1009 1184.8L1010 1187.6L1011 1187.2L1012 1187.7L1013 1187.6L1014 1193.6L1015 1192.2L1016 1189.4L1017 1191L1017.6 1191.4L1018 1196.1L1019 1195.8L1020 1194.4L1021 1192.1L1022 1191.2L1023 1179.4L1024 1180.2L1025 1176.7L1026 1171.3L1027 1172.3L1028 1168.6L1029 1159.3L1030 1157.7L1031 1155.5L1032 1149L1033 1158.3L1034 1163L1035 1174.2L1036 1178L1037 1183.7L1038 1194.4L1039 1195.1L1040 1193.9L1041 1190.3L1042 1190.3L1043 1194.4L1044 1191.5L1045 1186.2L1046 1190.5L1047 1185.8L1048 1183.1L1049 1184.6L1050 1182L1051 1186.2L1052 1188.4L1053 1187.2L1054 1188.3L1055 1186.6L1056 1183.9L1057 1189.4L1058 1187L1059 1196.8L1060 1191.8L1061 1194.4L1062 1191.7L1063 1189.2L1064 1180.2L1065 1182.8L1066 1174.2L1067 1168.1L1068 1169.5L1068.4 1167L1069 1167.1L1070 1174.5L1071 1171.7L1072 1170.1L1073 1171.3L1074 1173.5L1075 1180.2L1076 1184.5L1077 1179.5L1077.5 1185.3L1078 1182.9L1079 1183.5L1080 1187L1081 1186.7L1082 1184.7L1083 1181.2L1084 1179.5L1085 1174.7L1086 1177.8L1087 1172.1L1088 1172.5L1089 1177.2L1089.6 1173L1090 1174.1L1091 1176.6L1092 1174.6L1093 1173.5L1094 1176.7L1095 1178.3L1096 1175.6L1097 1182.9L1098 1185.2L1099 1177.5L1100 1179L1101 1185.9L1102 1185.8L1103 1181.3L1104 1186L1105 1183.2L1106 1190.6L1107 1188.6L1107.8 1188.3L1108 1188.2L1109 1183.2L1110 1184.5L1111 1183.9L1112 1181.5L1113 1178.3L1114 1177.2L1115 1181.2L1116 1182.2L1117 1180.1L1118 1176.4L1119 1177L1120 1168.8L1121 1168.3L1122 1172.2L1123 1163.6L1124 1163L1124.4 1167L1125 1170.7L1126 1165.6L1127 1166.6L1128 1170L1129 1175.8L1130 1168.2L1131 1178.4L1132 1173.6L1133 1177.5L1134 1177.6L1135 1179L1136 1171.6L1137 1176L1138 1164.9L1139 1167.2L1140 1164.2L1141 1156.5L1142 1157.7L1143 1145.4L1144 1142.5L1145 1142L1145.6 1140L1146 1136.9L1147 1148.1L1148 1149L1149 1155.2L1150 1153.9L1151 1155L1152 1167L1153 1164L1154 1169.7L1154.7 1173L1155 1169.8L1156 1176.3L1157 1176.8L1158 1175.9L1159 1176.2L1160 1181L1161 1187.4L1162 1182.8L1163 1185.4L1164 1191.2L1165 1193.2L1166 1196.8L1167 1197L1168 1200.9L1169 1195.7L1170 1205.4L1171 1197.7L1171.3 1203.4L1172 1197.2L1173 1193.9L1174 1197L1175 1191.1L1176 1191.8L1177 1189L1178 1185.4L1179 1178.8L1180 1172.7L1180.4 1173L1181 1180.6L1182 1183.1L1183 1183.2L1184 1191.4L1185 1191.5L1186 1196.2L1186.5 1203.4L1187 1204.5L1188 1204.5L1189 1205.2L1190 1203.3L1191 1195.9L1192 1201.5L1193 1203.3L1194 1199.3L1195 1196.4L1196 1193.6L1197 1190.3L1198 1195.5L1199 1198.3L1200 1188.5L1201 1195.2L1201.6 1191.3L1202 1195.5L1203 1189.2L1204 1194.3L1205 1186.4L1206 1187.7L1207 1190.2L1208 1193.3L1209 1189.2L1210 1184L1210.7 1188.3L1211 1193.2L1212 1190.4L1213 1193.6L1214 1188.7L1215 1190.9L1216 1189.3L1217 1191.3L1218 1194.9L1219 1195.7L1220 1199.3L1221 1202.1L1222 1197.8L1223 1205.1L1224 1203.2L1225 1201L1226 1200.3L1227 1209.4L1228 1207.3L1229 1201.8L1230 1209.6L1231 1207.3L1231.9 1209.5L1232 1208.4L1233 1208.9L1234 1200.6L1235 1198.1L1236 1197.9L1237 1198.5L1238 1187.5L1239 1192L1240 1187.9L1241 1179.6L1242 1181.5L1243 1178.1L1244 1176.1L1245 1171.4L1246 1166.3L1247 1165.2L1248 1159.7L1249 1158.9L1250 1155.5L1251 1149.4L1251.5 1152L1252 1149.3L1253 1150.9L1254 1151.8L1255 1154.1L1256 1156.5L1257 1151.6L1258 1155.2L1259 1155L1260 1161.7L1261 1168.9L1262 1176.2L1263 1191.1L1264 1199.1L1265 1203.4L1266 1205.5L1267 1196.9L1268 1195.1L1269 1193L1270 1193.5L1271 1193.2L1272 1187.1L1272.7 1191.3L1273 1191.2L1274 1196.6L1275 1200.6L1276 1196.7L1277 1197.4L1278 1207.9L1279 1206.3L1280 1208.2L1281 1209.2L1282 1212.9L1283 1215.4L1283.3 1218.6L1284 1215L1285 1213.5L1286 1215.2L1287 1217L1288 1210.4L1289 1210.1L1290 1209.5L1291 1211.9L1292 1209.8L1292.4 1206.5L1293 1210.6L1294 1200.7L1295 1205.8L1296 1199L1297 1200.4L1298 1198.4L1299 1197.3L1300 1193.2L1301 1189.1L1302 1187L1303 1195L1304 1193.2L1304.5 1188.3L1305 1188.5L1306 1185.8L1307 1194.9L1308 1192.5L1309 1193.4L1310 1196.4L1311 1192.5L1312 1194.4L1313 1201.8L1314 1202.2L1315 1206L1316 1201.5L1317 1208.3L1318 1208.7L1319 1205.9L1319.6 1206.5L1320 1210.1L1321 1200.8L1322 1198.3L1323 1204.5L1324 1196L1325 1198.3L1326 1199.1L1327 1196.9L1328 1190.6L1329 1194.9L1330 1185.7L1331 1189.5L1332 1191.5L1333 1186.3L1333.3 1185.3L1334 1185.1L1335 1194.8L1336 1194.8L1337 1198.1L1338 1201.9L1339 1204.9L1340 1204.1L1341 1209.3L1342 1208.7L1342.3 1209.5L1343 1206.2L1344 1205.6L1345 1204.5L1346 1201L1347 1206.4L1348 1203.1L1349 1207.6L1350 1197.5L1351 1204.4L1352 1197.2L1353 1197.6L1354 1196.4L1355 1202.5L1356 1198.3L1357 1195.4L1358 1191.5L1359 1189.1L1360 1191.6L1361 1197.1L1362 1190.5L1363 1192L1364 1193.4L1365 1188.3L1366 1187.9L1367 1194.7L1368 1199.6L1369 1201.8L1370 1207.3L1371 1212.5L1372 1212.4L1373 1204.8L1374 1208.5L1375 1202.5L1376 1204.2L1377 1197.3L1378 1201.6L1379 1195.8L1380 1198L1381 1197.4L1382 1191.5L1383 1183.8L1384 1185.4L1384.7 1185.3L1385 1187.3L1386 1176.8L1387 1170.1L1388 1160.1L1389 1156.4L1390 1148.6L1391 1138.5L1392 1130L1393 1121.2L1394 1107.9L1395 1097.6L1396 1089.7L1397 1084.4L1398 1076.6L1398.3 1070.3L1399 1077.9L1400 1085.5L1401 1085.1L1402 1092L1403 1100.9L1404 1110L1405 1112.9L1406 1124.8L1407 1134.8L1408 1141.5L1409 1141.8L1410 1153.6L1410.4 1155L1411 1160.4L1412 1166.7L1413 1171L1414 1175.9L1415 1188.1L1416 1194.9L1416.5 1194.4L1417 1197.1L1418 1196.5L1419 1192.2L1420 1195.9L1421 1196.6L1422 1197.7L1423 1198.6L1424 1204.4L1425 1205.6L1426 1201.4L1427 1210.2L1428 1201.8L1429 1212.9L1430 1210.1L1431 1211.9L1431.6 1211L1432 1207.5L1433 1208.4L1434 1207L1435 1197.3L1436 1193.4L1437 1196.6L1438 1188.2L1439 1183.6L1440 1184.1L1440.7 1182L1441 1179.2L1442 1181.7L1443 1184.5L1444 1184.5L1445 1194L1446 1193.4L1447 1196.3L1448 1194.7L1449 1201.6L1450 1205.5L1451 1207.9L1452 1200.1L1452.8 1206.5L1453 1204.5L1454 1202L1455 1206.2L1456 1208.2L1457 1207.7L1458 1204.9L1459 1211.6L1460 1207.9L1461 1212L1462 1205.7L1463 1208.1L1464 1202.1L1465 1206.9L1466 1208.1L1467 1203.6L1468 1207.9L1469 1202.5L1470 1206.1L1471 1207.7L1472 1206.3L1473 1202.7L1474 1206.5L1475 1202.2L1476 1203.2L1477 1205.1L1478 1201.7L1479 1198.3L1480 1198.7L1481 1197.4L1482 1194.6L1483 1198.3L1484 1196.1L1485 1193.5L1486 1189.1L1487 1197.7L1488 1187.4L1489 1191.3L1490 1189.3L1491 1193.2L1492 1200.3L1493 1203.8L1494 1204L1495 1200.4L1496 1208.9L1497 1202.6L1498 1209.5L1499 1204.4L1500 1203.5L1501 1207.4L1502 1206.8L1503 1206.2L1504 1208.7L1505 1205.7L1506 1204.7L1507 1197.7L1508 1204.6L1509 1203.7L1510 1201.8L1511 1193L1512 1198.8L1513 1195.8L1514 1195L1515 1191.2L1516 1192.8L1517 1197.1L1518 1198.8L1519 1199.8L1520 1196.3L1521 1202.3L1522 1196.8L1523 1202.6L1524 1203L1525 1194.7L1526 1193L1527 1192.5L1528 1196.6L1529 1198.6L1530 1191.7L1531 1192L1532 1189.9L1533 1191.1L1534 1190.9L1535 1187.8L1536 1183L1537 1181.7L1538 1179.4L1539 1188.8L1540 1182.7L1541 1188.3L1542 1190L1543 1183L1544 1183.8L1545 1186.8L1545.8 1188L1546 1192L1547 1194.2L1548 1197.8L1549 1192.7L1550 1198.4L1551 1203.1L1552 1200.3L1553 1204.6L1554 1203.1L1555 1211.7L1556 1209.6L1557 1212.4L1558 1209.6L1559 1208.6L1560 1202.5L1561 1204.8L1562 1198.6L1563 1195.6L1563.7 1194.4L1564 1197L1565 1196.9L1566 1197.9L1567 1200.2L1568 1200L1569 1196.2L1570 1199.3L1571 1202.2L1572 1194L1573 1201.1L1574 1200.2L1575 1199.4L1576 1196.9L1577 1199.2L1578 1204.7L1579 1206.7L1580 1208.3L1581 1206.3L1581.7 1204L1582 1208.8L1583 1211.2L1584 1207.5L1585 1214L1586 1211.2L1587 1208.2L1588 1202.5L1589 1193.4L1590 1191L1591 1195.6L1592 1194.8L1593 1197.8L1594 1203.2L1595 1205.1L1596 1202.2L1597 1209.8L1598 1210.8L1599 1205.3L1600 1206.3L1601 1212.2L1602 1212.5L1603 1204.8L1604 1209.6L1605 1202.6L1606 1205.3L1607 1203.1L1608 1204L1609 1195.9L1610 1195.2L1611 1192.3L1612 1191.1L1613 1179.9L1614 1177.5L1614.4 1178L1615 1172.7L1616 1174.5L1617 1174.9L1618 1180.8L1619 1181.9L1620 1173.8L1621 1176.5L1622 1176.8L1623 1176.2L1624 1181.1L1625 1180.8L1626 1170.7L1627 1174.5L1628 1175.7L1629 1176.8L1630 1175.3L1630.8 1174.8L1631 1178.8L1632 1175L1633 1182L1634 1189L1635 1186.1L1636 1189.5L1637 1197.2L1638 1196.1L1639 1203.4L1640 1202.8L1641 1206.8L1642 1211.5L1642.2 1214L1643 1214.1L1644 1208.7L1645 1205.1L1646 1201.8L1647 1196L1648 1198.1L1649 1190.9L1650 1187.7L1651 1178.7L1652 1177L1653 1176.7L1654 1176.7L1655 1170.7L1656 1160.9L1657 1161.7L1658 1162.3L1659 1153.9L1660 1155.3L1661 1148.8L1662 1145L1663 1149.7L1664 1144.3L1665 1142L1666 1147.6L1667 1153L1668 1156.5L1669 1159.4L1670 1163.1L1671 1169.6L1672 1171.5L1673 1176.2L1674 1185.9L1675 1186.1L1676 1194.2L1676.5 1194.4L1677 1197L1678 1196.6L1679 1201.5L1680 1198.5L1681 1196.8L1682 1207.2L1683 1207.8L1684 1209.4L1685 1213L1686 1209.3L1686.3 1210.8L1687 1209.3L1688 1210.3L1689 1212L1690 1204.7L1691 1208.8L1692 1209.9L1693 1201.4L1694 1197.9L1695 1198.5L1696 1201L1697 1200.2L1698 1193.6L1699 1198.7L1700 1187.9L1701 1193.7L1702 1186L1703 1189.4L1704 1181.3L1705 1176.7L1706 1180.2L1707 1174L1707.6 1174.8L1708 1180.8L1709 1182.9L1710 1181L1711 1186.8L1712 1191L1713 1196.7L1714 1195.3L1715 1201.8L1715.8 1204L1716 1204.3L1717 1205.7L1718 1206.1L1719 1205.4L1720 1205.6L1721 1206.4L1722 1213.5L1723 1209.1L1724 1205.4L1725 1209.1L1726 1213.8L1727 1213.6L1728 1207.8L1729 1212L1730 1213.1L1731 1218L1732 1212.5L1733 1220.1L1734 1219.7L1735 1211.8L1735.4 1217.3L1736 1216.3L1737 1215L1738 1214.4L1739 1215.4L1740 1206.7L1741 1211.5L1742 1201.4L1743 1208.4L1743.5 1204L1744 1202.5L1745 1202.2L1746 1212.2L1747 1215.9L1748 1214.7L1749 1218L1750 1216.1L1751 1216.5L1751.7 1220.6L1752 1221.3L1753 1219.1L1754 1210.4L1755 1207.9L1756 1203.5L1757 1199.9L1758 1202.5L1758.3 1197.7L1759 1192.7L1760 1193.3L1761 1195.4L1762 1202.4L1763 1200.5L1764 1202.9L1765 1202.7L1766 1205.2L1767 1202.4L1768 1196.7L1769 1198L1770 1201.8L1771 1199L1772 1201.5L1773 1204L1774 1204.2L1775 1213.8L1776 1216.1L1777 1215.6L1778 1215.6L1779 1218L1780 1216.9L1781 1223.8L1782 1222.2L1783 1217.8L1784 1220.8L1785 1222.7L1786 1217.2L1787 1219.4L1788 1219.4L1789 1219.4L1790 1213.1L1791 1210L1792 1215.8L1793 1210.6L1794 1207.1L1795 1210.4L1795.8 1207.5L1796 1212.1L1797 1217.7L1798 1216.6L1799 1220.3L1800 1224.7L1800.7 1230.4L1801 1227.9L1802 1225.9L1803 1232.2L1804 1228.1L1805 1220.8L1806 1220.2L1807 1220L1808 1227.1L1809 1219.4L1810 1223.2L1811 1215.9L1812 1214.5L1813 1221.3L1813.8 1215.7L1814 1211.2L1815 1216.7L1816 1217.8L1817 1216.6L1818 1221.9L1819 1223.8L1820 1217.9L1821 1219.5L1822 1222.3L1823 1223.1L1823.6 1223.8L1824 1224.6L1825 1224.4L1826 1218.3L1827 1223L1828 1216.4L1829 1210.4L1830 1212.8L1831 1212.4L1831.8 1210.8L1832 1207.6L1833 1216.5L1834 1214.9L1835 1215.6L1836 1214.5L1837 1214.4L1838 1217.3L1839 1222.5L1840 1224.4L1841 1225.8L1842 1220.4L1843 1229.7L1843.2 1227L1844 1228.5L1845 1227.5L1846 1225L1847 1227.8L1848 1228.1L1849 1223.3L1850 1220.9L1851 1221.3L1852 1223.2L1853 1221.1L1854 1221.4L1855 1215.6L1856 1217.9L1857 1213.2L1858 1216.1L1859 1209.2L1859.6 1214L1860 1214.9L1861 1218.1L1862 1221.3L1863 1218.1L1864 1223.4L1865 1217.6L1866 1216.9L1867 1223.8L1868 1222.9L1869 1224.7L1870 1228.1L1871 1231L1872 1233.4L1872.7 1230.4L1873 1228.2L1874 1230L1875 1229.5L1876 1229L1877 1227L1878 1224.7L1879 1227.3L1880 1218L1881 1225.1L1882 1217.5L1883 1216.7L1884 1220.8L1885 1217.5L1885.7 1217.3L1886 1216.4L1887 1216.3L1888 1218.5L1889 1223.1L1890 1223.9L1891 1232.4L1892 1229.7L1892.3 1233.6L1893 1231.7L1894 1231.4L1895 1233.6L1896 1234L1897 1231.3L1898 1226L1899 1224.4L1900 1228.1L1901 1225.2L1902 1228.3L1903 1222L1904 1226.3L1905 1222L1906 1220.3L1907 1218.5L1908 1223.9L1908.6 1220.6L1909 1221.3L1910 1223.4L1911 1228L1912 1221.4L1913 1228.4L1914 1227.9L1915 1228.7L1916 1236.4L1917 1232L1918 1235.3L1918.4 1237L1919 1234.6L1920 1228.9L1921 1227.8L1922 1222L1923 1224.1L1924 1222.6L1925 1223.4L1926 1220.4L1926.6 1214L1927 1212.5L1928 1219.9L1929 1211.4L1930 1212.5L1931 1217.3L1932 1219.6L1933 1219.3L1934 1214L1935 1218.6L1936 1220.2L1937 1219.7L1938 1224.4L1939 1224.9L1940 1218.5L1941 1223.2L1941.3 1223.8L1942 1226.8L1943 1229.1L1944 1229.2L1945 1233.8L1946 1232.7L1947 1230.4L1948 1236.4L1949 1235.5L1950 1236.7L1951 1237L1952 1237.1L1953 1237.9L1954 1236.5L1955 1232.9L1956 1235.5L1957 1230.7L1958 1233.2L1959 1234.1L1960 1229.1L1961 1224.1L1962 1231.3L1963 1223L1964 1222.1L1965 1219.4L1966 1222.4L1967 1221.3L1968 1224.8L1969 1217.1L1970 1218.3L1970.7 1219L1971 1222.2L1972 1215L1973 1220L1974 1218L1975 1225.4L1976 1221.2L1977 1220.3L1978 1220.8L1979 1222.7L1980 1228.8L1980.5 1227L1981 1222.9L1982 1222.2L1983 1224.6L1984 1222.6L1985 1230.3L1986 1230.8L1987 1228.5L1988 1226.5L1989 1223.4L1990 1231L1991 1226L1992 1229.5L1993 1234.5L1994 1226.5L1995 1231.6L1996 1229L1997 1230.2L1998 1229L1999 1232.4L2000 1230.4L2001 1231.6L2002 1227.4L2003 1236.7L2004 1231.5L2005 1233.6L2006 1235.9L2007 1238.1L2008 1240.8L2009 1234.9L2010 1240L2011 1237.5L2012 1238.8L2013 1236.1L2014 1232.5L2015 1237L2016 1237.6L2017 1233L2018 1230.7L2019 1225.5L2020 1227.7L2021 1229.7L2022 1223.5L2023 1223.6L2024 1222.5L2025 1219.8L2026 1220.6" stroke="#00f" stroke-width="12"/>
<path d="M145 650.5L146 657L147 661.9L148 659.2L149 649.3L150 652.3L151 650.3L152 650L153 652.5L154 654.7L155 642.1L156 640.7L157 654.9L158 647.5L159 653.1L160 639.3L161 648L162 648.2L163 654.1L164 646.8L165 660.3L166 660.8L167 655L168 647L169 647.2L170 656.7L171 664.1L172 654.5L173 657L174 650.9L175 653.3L176 645.4L177 647.5L178 650.1L179 650L180 650.5L181 646.5L182 647.1L183 647.5L184 652.3L185 649.9L186 645.8L187 660.7L188 656.4L189 656L190 657.5L191 648.6L192 661.5L193 658.2L194 644.4L195 647.1L196 652.9L197 648L198 652.8L199 657.8L200 650.1L201 658.3L202 656.6L203 651.5L204 656L205 658.2L206 664L207 664.1L208 658.8L209 660.9L210 660L211 650.9L212 653.5L213 662.1L214 654.5L215 649.3L216 654.8L217 656.5L218 652L219 653.3L220 646.6L221 646L222 645.5L223 648.4L224 642.4L225 638.5L226 638.5L227 637L228 628.9L229 629.7L230 641.7L231 647.1L232 640.5L233 637.4L234 633.8L235 640L236 639.9L237 648.3L238 644.4L239 640.1L240 645.7L241 634.4L242 639L243 638.7L244 646L245 638.9L246 636.3L247 632.4L248 636.8L249 643.6L250 626.3L251 639.5L252 639.7L253 640.4L254 633L255 637.7L256 639.3L257 634.6L258 635.8L259 633.8L260 627.7L261 636L262 641.7L263 635.6L264 628.3L265 632.7L266 631.6L267 631L268 627L269 625.2L270 626.9L271 626.7L272 623L273 626.1L274 624.5L275 618.2L276 622.8L277 623.1L278 631.2L279 637.1L280 632L281 637.7L282 638.2L283 639.1L284 629.7L285 640.5L286 638.1L287 628.1L288 636L289 627.2L290 627L291 640.1L292 630.9L293 628.2L294 637.3L295 632.1L296 627.1L297 628.5L298 635L299 628.4L300 630.1L301 634L302 636.5L303 630.9L304 627.5L305 629L306 620.1L307 625.2L308 624.6L309 619.4L309.7 624L310 617.1L311 630.8L312 623.6L313 618L314 624.8L315 628.4L316 613.9L317 613.6L318 622L319 616.2L320 626.9L321 617.5L322 627.6L323 627.7L324 625L325 625.4L326 619.2L327 632.1L328 628.6L329 623.2L330 617.6L331 622L332 621L333 613.5L334 613L335 605.5L336 605L337 607.4L338 597.3L339 601.8L340 613.9L341 612.4L342 602.3L343 612.2L344 606L345 604.3L346 616.5L347 614.6L348 610.6L349 609.2L350 615L351 605.2L352 619.1L353 603.5L354 615.7L355 616.9L356 609L357 601L358 611.7L359 612.5L360 603L361 608.4L362 606.9L363 606.6L364 608L365 607.5L366 617.2L367 615.1L368 612.8L369 620L370 610.5L371 616.9L372 608L373 608.4L374 602.7L375 608.6L376 606.1L377 589L378 589L379 591L380 588.1L381 600L382 596.5L383 588.7L384 586.6L385 595L386 592L387 596.2L388 596.1L389 584.6L390 592.1L391 587.2L392 582.1L393 589L394 574.7L395 581.5L396 576L397 569.9L398 572.7L399 586.6L400 575.7L401 586.3L402 583L403 585.3L404 590.1L405 582.3L406 582.4L407 582.1L408 592.8L409 588.7L410 595.6L411 588L412 593L413 578.6L414 584L415 574.8L416 572.1L417 571L418 582.8L419 575L420 576.8L421 574.5L422 563.8L423 565.3L424 565.2L425 555.7L425.6 556L426 556.2L427 548.2L428 543.5L429 544.2L430 552.1L431 544.4L432 541L433 545.8L434 535.9L435 530.7L436 537L437 530L438 534.4L439 519.3L440 529.5L441 518.3L442 517.4L442.2 524L443 532.3L444 520.2L445 525.7L446 540.2L447 533L448 530L449 532.9L449.2 539L450 535.2L451 544.7L452 534.3L453 549.2L454 540.7L455 552.1L455.5 544L456 550.3L457 538L458 535.7L459 538L460 531.5L461 519.9L462 521.8L463 506.2L463.4 511L464 503.1L465 520.8L466 509.6L467 515.7L468 514L469 512.5L470 508.9L470.5 517L471 524.4L472 525.8L473 526.1L474 511.1L475 513.2L476 520.6L477 527.4L477.6 519L478 519.2L479 520.3L480 518.4L481 510.2L482 513.6L483 508.2L484 505.8L485 501.6L486 503.6L487 506L488 513.4L489 503.2L490 505.8L491 504.7L492 509L493 498.4L493.3 500L494 499.8L495 504.5L496 508.6L497 521L498 525.9L499 520.7L499.7 527L500 522.2L501 518.8L502 512.5L503 506L504 494.3L505 484.2L505.9 485L506 480.8L507 474.6L508 478.8L509 467.9L510 464.5L511 468L512 468.9L513 461.7L514 468.9L515 462.5L516 467.7L516.9 460L517 455.1L518 467.2L519 478L520 474.3L521 493.3L522 488L522.4 496L523 497.4L524 494.6L525 486.9L526 474.1L527 465.6L528 466.2L529 467.1L529.5 458L530 453.5L531 460.9L532 446.1L533 456.3L534 439.5L535 441.8L536 449L537 444.9L537.4 439L538 443.8L539 439.6L540 435L541 431L542 425L543 414.6L544 412.8L545 403.1L546 406.1L546.8 398L547 402.9L548 408.5L549 417.8L550 440.4L551 450L552 458.3L552.3 461L553 458.3L554 457.9L555 447L556 441.1L557 435.3L558 429.2L559 420.7L560 425.1L561 418L562 410.8L563 407L564 393.6L565 391.8L566 382.5L567 375.6L567.3 380L568 378.7L569 392L570 389.3L571 393.4L572 400.7L573 398.9L574 399.5L575 411.6L576 415.2L576.7 418L577 414.9L578 395.3L579 381.1L580 362L581 363.4L582 353.5L583 355.7L584 353.3L585 347L586 348.1L587 348.4L587.7 346L588 348.2L589 336.4L590 317L591 310.5L591.5 302.6L592 297.5L593 305.4L594 317.8L594.4 320L595 327.9L596 320L597 333L598 339.1L598.7 334.6L599 328.9L600 324.9L601 317.4L602 301.7L603 294L604 300.4L605 303.6L606 304.2L607 311.3L608 314.5L608.9 311L609 318.5L610 322.8L611 327.6L612 338.3L613 346.9L613.2 353.5L614 348.7L615 343.9L616 326.7L617 328.2L618 321.4L619 311L620 307.1L621 308.4L622 300.9L623 309.1L624 295.9L625 310.5L626 306.1L627 301.6L628 294L629 303.5L630 303.1L630.7 294L631 288.1L632 300.8L633 303.4L634 301.9L635 304.2L636 301.4L637 311.1L638 305.5L639 315.8L640 308.8L641 318.3L642 314.9L643 313.2L644 318.3L645 317.7L645.2 324.4L646 323.3L647 314.8L648 294.8L649 292.5L650 281.1L651 273.6L652 260.2L653 254L654 249L655 262.5L656 284.7L657 292.9L658 310.7L658.3 320L659 314.1L660 301.6L661 303.4L662 296.2L663 292.6L664 276.9L665 271.2L666 268L667 257.3L668 255.2L668.5 250.3L669 254.7L670 275.6L671 292.3L672 308.2L672.8 317L673 324.3L674 324.8L675 330L676 341.5L677 346.7L677.2 343.3L678 340.8L679 333.4L680 327.3L681 320.1L682 327L683 317L684 332.8L685 359.6L685.9 375L686 376.3L687 389.4L688 394.5L689 405L690 401L691 413.6L691.7 418.9L692 417.9L693 406.7L694 402.1L695 392.7L696 387.8L697 373.2L698 372L699 364.8L700 355.4L701 349.4L702 347.4L703 338.7L704 328.7L704.8 323L705 327.3L706 332.4L707 339.5L708 346.2L709 359L710 372.5L711 385.6L712 389.8L713 399.6L714 400L715 412.2L716 409.3L717 420.4L717.8 418.9L718 416.1L719 415.2L720 412.4L721 396.3L722 388.2L723 388.6L723.7 382.5L724 382.8L725 379.1L726 372.1L727 378L728 377.9L729 376.7L730 383.9L731 378.3L732 380.2L733 375.3L734 389.5L735 395.8L736 401L737 413L738 420.2L739 428.9L740 437.4L741 442.6L741.1 445L742 441.2L743 434.5L744 432.4L745 423.7L746 418.1L747 410.4L748 404.6L749 395.3L749.8 388.4L750 387.1L751 392.9L752 406L753 415L754 417L755 418L756 434.6L757 436.3L758 435.5L759 434.7L760 426.8L761 434.5L762 438.1L763 432L764 430.3L765 435.1L766 423.4L767 431.5L768 438.7L768.7 430.5L769 434.8L770 434.1L771 442.6L772 445.2L773 443.1L774 447L775 461.8L776 459.5L777 452.3L778 446L779 454.6L780 446.3L781 440.4L782 439.3L783 439.5L784 427L785 431.7L785.4 427.6L786 434.7L787 442L788 440.3L789 451.4L790 452.1L791 463.1L792 463.6L793 479L793.4 477L794 483.7L795 475.9L796 475.2L797 489.1L798 485.8L799 489.3L800 476.4L801 492.5L802 488.9L803 484.7L803.6 488.6L804 485.7L805 486.3L806 482.2L807 468.6L808 470.7L809 458.8L809.4 462.5L810 471.4L811 463.1L812 472.2L813 470L814 468.9L815 463.9L816 469.5L817 463.8L818 464.8L819 475.8L820 470.5L821 474L822 471.9L823 458.4L824 459.4L825 453.2L825.4 448L826 435.8L827 417.1L828 403.6L828.3 400L829 399.9L830 394.1L831 400L832 364L833 329.9L834 300L835 268.8L836 239.4L836.5 220L837 209.7L838 190.5L838.5 190L839 200.6L840 215.6L840.5 220L841 240.1L842 268.8L843 300L844 349L845 400L846 437.6L847 470L848 471L849 484.4L850 481.4L851 491.6L852 498.8L853 502.9L854 505.6L855 512.1L856 522L857 522.8L858 512.6L859 510L860 500L861 503.3L862 492.8L863 491.2L864 499.9L865 511.5L866 520L867 514L868 532L869 534.9L870 538.3L871 526.4L872 524.7L873 525.1L874 527.8L875 516.7L876 521.7L877 516.9L878 504.3L879 513.9L880 496.6L881 495.9L882 501.6L883 488.9L884 491.4L885 490.6L886 484.9L887 491.8L888 499.3L889 501.4L890 487.2L891 488.6L892 503.1L893 490.2L894 495.1L895 493.3L896 494L897 501.9L898 498.4L899 512L900 517.7L901 520.8L902 527.3L903 528.5L904 528.2L905 536L906 545.5L907 542L908 542.6L909 533.9L910 529L911 541.8L912 534.1L913 528.2L914 530.6L915 528L916 525.5L917 515.9L918 518.9L919 518L920 512.4L921 515.8L922 526L923 522.9L924 530.7L925 535.6L926 540.2L927 544L928 548.7L929 548.8L930 543L931 554L932 538.5L933 550L934 547.4L935 545.9L936 530.9L937 530L938 540.8L939 533.5L940 530.3L941 539.3L942 521.7L943 528.6L944 525.6L945 518.5L946 523.6L947 526.6L948 536L949 543.3L950 534.9L951 547.1L952 551.4L953 541.9L954 551.3L955 537.1L956 533.8L957 537L958 540.3L959 530.9L960 525.4L961 533.8L962 531.6L963 529.9L964 518.4L965 517.9L966 512.4L967 515.1L968 508.9L969 506.5L970 511.5L971 504.2L972 514.7L973 511.3L974 506.4L975 518.1L976 517.6L977 529.2L978 527.7L979 532.4L980 533.1L981 533.3L982 542L983 543.8L984 537.9L985 538.6L986 544.9L987 550.2L988 546.2L989 553L990 558.4L991 558.1L992 547.4L993 558.7L994 554.3L995 546.9L996 545L997 544.3L998 542.1L999 547.6L1000 541.8L1001 540.5L1002 532.5L1003 543.9L1004 535.1L1005 534.5L1006 537L1007 535.1L1008 552.5L1009 546.7L1010 556.2L1011 558.8L1012 562L1013 556.5L1014 560.7L1015 561.2L1016 559.8L1017 556.4L1018 543.7L1019 549L1020 548.6L1021 554.4L1022 549.5L1023 546.8L1024 546.2L1025 538.3L1026 546.9L1027 540.4L1028 535L1029 534.7L1030 542.2L1031 533.2L1032 525.6L1033 530.1L1034 524L1035 533.9L1036 532L1037 538.4L1038 525.9L1039 530.2L1040 532L1041 538.3L1042 529.7L1043 533L1044 542.8L1045 540.7L1046 540.6L1047 545.7L1048 554.3L1049 554.6L1050 550.4L1051 538.9L1052 534.2L1053 541.3L1054 533.6L1055 526.7L1056 523.6L1057 537.6L1058 526.4L1059 534.6L1060 544.9L1061 545.1L1062 540.7L1063 553.1L1064 550.8L1065 557.7L1066 560.6L1067 555.5L1068 562L1069 562.4L1070 571.4L1071 572L1072 569.1L1073 560.8L1074 550.4L1075 541.6L1076 523.8L1077 517.6L1078 514.2L1079 520.8L1080 518.8L1081 512.2L1082 509.4L1083 505.7L1084 511.2L1085 507.4L1086 501.6L1087 490L1088 495.4L1089 503.8L1090 499.5L1091 497.5L1092 501.7L1093 510.5L1094 501.6L1095 505.9L1096 511.3L1097 523.3L1098 523.4L1099 529.6L1100 524.1L1101 524.6L1102 524.9L1103 524.3L1104 523.6L1105 523.7L1106 528.4L1107 530.6L1108 520.6L1109 524.3L1110 521.8L1111 522.5L1112 526.3L1113 533.3L1114 538.4L1115 541.6L1116 552.1L1117 543.1L1118 554.4L1119 556L1120 560L1121 551.5L1122 544.8L1123 537.7L1124 534.1L1125 531.6L1126 538.2L1127 536.8L1128 532L1129 535.1L1130 534.7L1131 532.5L1132 523.5L1133 524.1L1134 523.8L1135 531.7L1136 527.7L1137 536.7L1138 535.3L1139 535.8L1140 541.4L1141 538.8L1142 531.2L1143 533.3L1144 532.4L1145 523.8L1146 524.5L1147 524L1148 532.3L1149 524.2L1150 530.1L1151 529.8L1152 545.1L1153 538L1154 546.3L1155 543.2L1156 543.4L1157 539.3L1158 531.8L1159 533.9L1160 525.9L1161 526.2L1162 519.3L1163 516.1L1164 531.7L1165 536.8L1166 537.2L1167 551.9L1168 543.8L1169 556.9L1170 542.8L1171 537.9L1172 540.3L1173 542.7L1174 549.2L1175 538.3L1176 542.4L1177 543L1178 535.6L1179 533.4L1180 545.9L1181 556.1L1182 553.5L1183 557.6L1184 559L1185 572.5L1186 577.4L1187 574.3L1188 566.4L1189 573.7L1190 570.6L1191 574.3L1192 563.9L1193 565.7L1194 565.2L1195 568L1196 572.8L1197 573.2L1198 571.2L1199 568.5L1200 557.5L1201 562L1202 566.2L1203 562.5L1204 561.2L1205 567L1206 575.7L1207 564.8L1208 579.2L1209 568.9L1210 575.7L1211 579.8L1212 582.5L1213 567.4L1214 568.4L1215 562.9L1216 566.4L1217 564.1L1218 549.1L1219 548.7L1220 552L1221 561.8L1222 559.7L1223 558L1224 570.1L1225 566.8L1226 572.7L1227 568.3L1228 579.8L1229 586.1L1230 578.2L1231 580.6L1232 579.2L1233 565.5L1234 568L1235 564.2L1236 567.4L1237 566.7L1238 554.4L1239 553.1L1240 558.2L1241 551.2L1242 544.5L1243 543.5L1244 547.4L1245 546L1246 549.9L1247 540.7L1248 540L1249 536L1250 534.6L1251 543.2L1252 545.3L1253 556L1254 553.6L1255 557.1L1256 563.7L1257 569.5L1258 574.2L1259 570.5L1260 574.5L1261 566.3L1262 577.8L1263 573.8L1264 570.2L1265 561.1L1266 565L1267 570.6L1268 569.1L1269 571.2L1270 571.8L1271 561L1272 563.4L1273 562.7L1274 561.4L1275 559.6L1276 561.3L1277 564.9L1278 563.6L1279 572.8L1280 577.2L1281 576.4L1282 580L1283 573.8L1284 574.9L1285 581.6L1286 581.1L1287 584.8L1288 575.3L1289 566.6L1290 565.2L1291 568.4L1292 571.9L1293 561.3L1294 562L1295 568.1L1296 571.6L1297 561.7L1298 559L1299 563.7L1300 562.4L1301 553.6L1302 559.3L1303 556L1304 558.1L1305 567.5L1306 566.1L1307 554.7L1308 555.7L1309 563.2L1310 570.3L1311 564L1312 570.8L1313 573.6L1314 573.6L1315 576.9L1316 582.1L1317 589.7L1318 601.9L1319 598.3L1320 598.8L1321 590.1L1322 595.5L1323 586.8L1324 588.9L1325 583.7L1326 584.8L1327 594.5L1328 586.4L1329 596L1330 595.4L1331 600.8L1332 598.9L1333 605.6L1334 601.2L1335 596.4L1336 597.5L1337 593.3L1338 588.5L1339 585.8L1340 582.1L1341 576.6L1342 581.4L1343 571.7L1344 572.9L1345 570.4L1346 560.8L1347 567.6L1348 560.8L1349 560.4L1350 563.2L1351 564.1L1352 557.9L1353 557.2L1354 560.6L1355 558.6L1356 556.3L1357 549.9L1358 555.9L1359 560.1L1360 570.4L1361 574.9L1362 581.1L1363 591.8L1364 592.7L1365 594L1366 590.6L1367 577.3L1368 579.3L1369 582.8L1370 571.7L1371 581.5L1372 566.3L1373 575.8L1374 562.4L1375 570.2L1376 561.9L1377 570.6L1378 565L1379 576.8L1380 568L1381 582L1382 577.4L1383 581.2L1384 578.5L1385 588L1386 582.5L1387 570.8L1388 569.2L1389 560L1390 546.7L1391 527.8L1392 510L1393 493.6L1394 495.2L1395 485.7L1395.6 473L1396 479.6L1397 486.7L1398 499.9L1399 510L1400 524.9L1401 529.5L1402 540L1403 545.1L1404 542.7L1405 540.1L1406 542L1407 551.1L1408 543.9L1409 548.9L1410 541.3L1411 550.1L1412 544.5L1413 557.4L1414 547.3L1415 549.7L1416 552.6L1417 554.9L1418 562.5L1419 567.8L1420 570.7L1421 574.7L1422 590.5L1423 594.7L1424 593.6L1425 597L1426 600.4L1427 601.4L1428 592.1L1429 602.7L1430 593.5L1431 599.9L1432 597.1L1433 594.3L1434 606L1435 601.8L1436 602.5L1437 587.8L1438 590.6L1439 577L1440 573.8L1441 576.6L1442 582.8L1443 578.9L1444 566.2L1445 573.1L1446 572.2L1447 570.8L1448 580.2L1449 573.6L1450 578.4L1451 577.3L1452 575L1453 574.8L1454 566.1L1455 576.4L1456 579.7L1457 566.5L1458 574.2L1459 570.9L1460 567.8L1461 573.8L1462 577.9L1463 560.6L1464 568.4L1465 581L1466 580L1467 588.4L1468 590.3L1469 575.9L1470 580.7L1471 567.3L1472 567.3L1473 573.7L1474 562.5L1475 565.9L1476 568.7L1477 563.6L1478 564.4L1479 565.3L1480 570.9L1481 570.6L1482 561.9L1483 566.8L1484 569.2L1485 569.1L1486 573.4L1487 582.3L1488 584.1L1489 576.4L1490 583.2L1491 582.2L1492 583.8L1493 594.8L1494 585.1L1495 584.6L1496 591.6L1497 587.5L1498 587.1L1499 576.2L1500 577.2L1501 570.9L1502 585.1L1503 582.2L1504 584.1L1505 567.3L1506 573.8L1507 577.8L1508 579.3L1509 582.2L1510 575.3L1511 572.4L1512 565.3L1513 579.3L1514 582.2L1515 580.6L1516 576L1517 570L1518 567.9L1519 577.2L1520 572L1521 582L1522 585.2L1523 575.3L1524 584.8L1525 586.5L1526 587.9L1527 597L1528 594.8L1529 595.9L1530 586.9L1531 580.9L1532 575.1L1533 569.1L1534 561.1L1535 565L1536 563.7L1537 575.4L1538 568.2L1539 579.9L1540 579.1L1541 585.1L1542 589.7L1543 590.4L1544 601.7L1545 593.2L1546 592.9L1547 611.5L1548 607.3L1549 600.4L1550 596.3L1551 594.7L1552 593.7L1553 596.1L1554 588L1555 580.9L1556 577.3L1557 580.5L1558 578.4L1559 578.8L1560 576.7L1561 571.8L1562 575.3L1563 574.6L1564 570.7L1565 581L1566 572.4L1567 568.2L1568 575L1569 579.4L1570 572.7L1571 579.7L1572 579.3L1573 583.4L1574 579.2L1575 578.3L1576 582.5L1577 586.3L1578 587.5L1579 592.9L1580 590L1581 592L1582 596.3L1583 597.7L1584 610.1L1585 607.3L1586 606.5L1587 599.2L1588 601.7L1589 607.7L1590 601.3L1591 599.4L1592 595.2L1593 590.4L1594 596.2L1595 585.4L1596 596L1597 582.1L1598 592.4L1599 584.7L1600 588.4L1601 585.4L1602 582.3L1603 578.2L1604 587.3L1605 581.8L1606 586.7L1607 591.2L1608 591.8L1609 600.3L1610 599.7L1611 605.7L1612 592.8L1613 598.5L1614 586.1L1615 591.9L1616 583.7L1617 584.5L1618 574.9L1619 584.8L1620 572.2L1621 574.9L1622 576.8L1623 576.4L1624 587.4L1625 586.3L1626 589.2L1627 594L1628 588.2L1629 587.5L1630 602.6L1631 596.5L1632 602.2L1633 602.8L1634 600.4L1635 591L1636 578.3L1637 580.2L1638 588.3L1639 586.3L1640 581.7L1641 583L1642 589.9L1643 585.4L1644 600.4L1645 599.1L1646 602.8L1647 597.4L1648 601.4L1649 604.7L1650 588.5L1651 594.1L1652 583.3L1653 575.7L1654 574L1655 571.7L1656 577L1657 567.4L1658 565.5L1659 562.2L1660 565.9L1661 561.7L1662 569.6L1663 571.9L1664 577.8L1665 572.4L1666 580L1667 583.6L1668 582L1669 577.8L1670 577L1671 582.5L1672 578.1L1673 592.6L1674 583.3L1675 592.7L1676 593.3L1677 588.8L1678 593.9L1679 606.3L1680 603.9L1681 612.5L1682 614.6L1683 603.3L1684 612.5L1685 613.1L1686 600.3L1687 604.2L1688 602.1L1689 608.3L1690 600L1691 591L1692 593.9L1693 591.8L1694 584.1L1695 584.4L1696 590.6L1697 590L1698 584.4L1699 577.4L1700 572.5L1701 588.9L1702 584L1703 592.6L1704 584.3L1705 586.2L1706 601.3L1707 596.9L1708 590.9L1709 584.6L1710 589.7L1711 595.4L1712 590.4L1713 580.8L1714 588.5L1715 577.7L1716 585.4L1717 588.6L1718 588.1L1719 586.7L1720 597.7L1721 593.3L1722 603.5L1723 599.9L1724 608.4L1725 604L1726 605.9L1727 611.2L1728 609.4L1729 615.1L1730 607L1731 612.5L1732 614.8L1733 603.2L1734 610.9L1735 607.6L1736 605.3L1737 597.3L1738 604.9L1739 599.4L1740 593.8L1741 584L1742 589.6L1743 578L1744 584.3L1745 594.8L1746 589.9L1747 594.5L1748 601.3L1749 606.8L1750 608.7L1751 610.4L1752 608.9L1753 611.8L1754 615.9L1755 609L1756 610.2L1757 616L1758 601.9L1759 605L1760 608.2L1761 606.4L1762 618.8L1763 605.8L1764 605.3L1765 609.3L1766 613L1767 618.8L1768 622.2L1769 619.9L1770 615.8L1771 605.9L1772 614.4L1773 607.1L1774 617.5L1775 621.3L1776 611.8L1777 624.7L1778 617.7L1779 618.5L1780 619.7L1781 610.4L1782 612.5L1783 626.5L1784 615L1785 612.2L1786 616.1L1787 624.4L1788 616.6L1789 616L1790 617.6L1791 621.9L1792 617.3L1793 617L1794 606L1795 610.5L1796 607.7L1797 601.1L1798 585.1L1799 587.5L1800 585.9L1801 597.9L1802 598.4L1803 587.7L1804 594.6L1805 594.9L1806 602.9L1807 592.4L1808 598.9L1809 607.8L1810 605.2L1811 612.1L1812 597L1813 606.9L1814 608.3L1815 612.2L1816 604.2L1817 614.1L1818 600.2L1819 598.7L1820 599.1L1821 607.3L1822 599L1823 601.7L1824 600.5L1825 598L1826 614.3L1827 603.1L1828 614.3L1829 606.2L1830 612.5L1831 606.9L1832 621.1L1833 608.8L1834 627.2L1835 614.4L1836 620.6L1837 628.2L1838 629.9L1839 617.2L1840 623.8L1841 608.6L1842 614.5L1843 597.5L1844 599.7L1845 601.5L1846 597.3L1847 600L1848 604.7L1849 604L1850 605.6L1851 611.4L1852 604.9L1853 605.9L1854 615.8L1855 610.5L1856 622.9L1857 616.6L1858 612.4L1859 610.3L1860 600.1L1861 597.1L1862 595.3L1863 598.9L1864 603L1865 605.5L1866 612.2L1867 605.5L1868 612L1869 607.9L1870 605.3L1871 613L1872 619.6L1873 623.3L1874 627.7L1875 627.6L1876 625.1L1877 626.8L1878 627.9L1879 629.8L1880 628.1L1881 630.3L1882 627.2L1883 630.7L1884 622.5L1885 621.6L1886 626.4L1887 622.5L1888 618.6L1889 618L1890 620.8L1891 616.1L1892 608.9L1893 608.5L1894 612.2L1895 601.4L1896 607.1L1897 613.3L1898 600.7L1899 603L1900 606.2L1901 601.4L1902 610.6L1903 608.6L1904 609.4L1905 607.3L1906 610.2L1907 615.6L1908 612.8L1909 621.9L1910 610.9L1911 625.5L1912 623.1L1913 621.8L1914 610.1L1915 600.6L1916 600.4L1917 599.1L1918 592.7L1919 598.1L1920 600L1921 588.6L1922 586.7L1923 587.7L1924 603.5L1925 597.8L1926 588.9L1927 599.3L1928 604.3L1929 596.6L1930 600.5L1931 596.4L1932 610.6L1933 608.4L1934 601.9L1935 613.7L1936 611.5L1937 614.7L1938 613.4L1939 617.7L1940 613.8L1941 615.9L1942 617.6L1943 616.2L1944 623.2L1945 608.9L1946 610.9L1947 623.9L1948 615.9L1949 619.3L1950 621.1L1951 622.9L1952 618L1953 622.2L1954 620.7L1955 621.3L1956 637.1L1957 634.7L1958 632L1959 636.1L1960 619.1L1961 628.4L1962 619.5L1963 620.3L1964 620.8L1965 607.9L1966 611.1L1967 611.8L1968 614.7L1969 606.4L1970 600.8L1971 603.2L1972 600.5L1973 593.3L1974 595.2L1975 588.3L1976 589.7L1977 583.9L1978 591.5L1979 590.2L1980 599.3L1981 601.9L1982 610.4L1983 610.8L1984 613.3L1985 619.7L1986 610.2L1987 614.5L1988 614.6L1989 614.9L1990 624.1L1991 626.5L1992 628.7L1993 620.6L1994 632.4L1995 631.6L1996 614.6L1997 611.7L1998 611L1999 620.6L2000 620.9L2001 605.9L2002 603.2L2003 610.4L2004 605.2L2005 598L2006 604.6L2007 597.7L2008 602.8L2009 604.2L2010 607.4L2011 613.3L2012 609.8L2013 611.1L2014 612.2L2015 625.3L2016 615.9L2017 622.8L2018 622.6L2019 625L2020 619.5L2021 618L2022 609L2023 609L2024 613.6L2025 612.9L2026 605.9" stroke="#f0f" stroke-width="12"/>
</g>
<path d="M655 242.5 H618.7 V278.5M618.7 329.5 V364.5M618.7 414.8 V449.8M618.7 500.1 V535.1M618.7 585.4 V620.4M618.7 670.7 V705.7M618.7 756 V791M618.7 841.3 V876.3M618.7 926.6 V961.6M618.7 1011.9 V1046.9M618.7 1097.2 V1132.2M618.7 1182.5 V1217.5M618.7 1267.8 V1302.8M618.7 1353.1 V1388.1M618.7 1438.4 V1473.4M618.7 1523.7 V1558.7M618.7 1609 V1644M618.7 1694.3 V1729.3M618.7 1779.6 V1814.6M618.7 1864.9 V1899.9M705 242.5 L723.5 258M723.8 310.5 V345.5M723.8 395.8 V430.8M723.8 481.1 V516.1M723.8 566.4 V601.4M723.8 651.7 V686.7M723.8 737 V772M723.8 822.3 V857.3M723.8 907.6 V942.6M723.8 992.9 V1027.9M723.8 1078.2 V1113.2M723.8 1163.5 V1198.5M723.8 1248.8 V1283.8M723.8 1334.1 V1369.1M723.8 1419.4 V1454.4M723.8 1504.7 V1539.7M723.8 1590 V1625M723.8 1675.3 V1710.3M723.8 1760.6 V1795.6M723.8 1845.9 V1880.9M682.8 1929.7 H719.5" stroke="#000" stroke-width="8.5" stroke-linecap="round" fill="none"/>
<g font-size="73" transform="translate(0 2667.5) scale(1 1.03) translate(0 -2667.5)"><text x="144.8" y="2667.5" text-anchor="middle">5</text><text x="270.2" y="2667.5" text-anchor="middle">10</text><text x="395.6" y="2667.5" text-anchor="middle">15</text><text x="521.1" y="2667.5" text-anchor="middle">20</text><text x="646.5" y="2667.5" text-anchor="middle">25</text><text x="772" y="2667.5" text-anchor="middle">30</text><text x="897.5" y="2667.5" text-anchor="middle">35</text><text x="1022.9" y="2667.5" text-anchor="middle">40</text><text x="1148.3" y="2667.5" text-anchor="middle">45</text><text x="1273.8" y="2667.5" text-anchor="middle">50</text><text x="1399.2" y="2667.5" text-anchor="middle">55</text><text x="1524.7" y="2667.5" text-anchor="middle">60</text><text x="1650.2" y="2667.5" text-anchor="middle">65</text><text x="1775.6" y="2667.5" text-anchor="middle">70</text><text x="1901" y="2667.5" text-anchor="middle">75</text><text x="2026.5" y="2667.5" text-anchor="middle">80</text></g>
<text x="882.8" y="2784.5" font-size="84">2<tspan font-family="Liberation Serif, serif" font-weight="normal" font-size="77">&#952;</tspan> (Degree)</text>
<text transform="translate(84 1541.4) rotate(-90) scale(1 1.04)" font-size="85.6">Intensity (a.u)</text>
<text transform="translate(682.6 220.8) rotate(-90)" font-size="63">(002)</text>
<text transform="translate(1273.5 705.7) scale(1 1.03)" font-size="67">Mn<tspan font-size="41" dy="27.5">2</tspan><tspan dy="-27.5">O</tspan><tspan font-size="41" dy="27.5">3</tspan><tspan dy="-27.5">/N,S-rGO aerogel</tspan></text>
<text transform="translate(1336.4 1333.6) scale(1 1.03)" font-size="67">Mn<tspan font-size="41" dy="27.5">2</tspan><tspan dy="-27.5">O</tspan><tspan font-size="41" dy="27.5">3</tspan><tspan dy="-27.5">/N-rGO aerogel</tspan></text>
<text transform="translate(1413.3 2017.5) scale(1 1.03)" font-size="67">Mn<tspan font-size="41" dy="27.5">2</tspan><tspan dy="-27.5">O</tspan><tspan font-size="41" dy="27.5">3</tspan><tspan dy="-27.5">/rGO aerogel</tspan></text>
<text transform="translate(1814.5 2406.3) scale(1 1.03)" font-size="67">Mn<tspan font-size="41" dy="27.5">2</tspan><tspan dy="-27.5">O</tspan><tspan font-size="41" dy="27.5">3</tspan><tspan dy="-27.5"></tspan></text>
</svg>
</body></html>
